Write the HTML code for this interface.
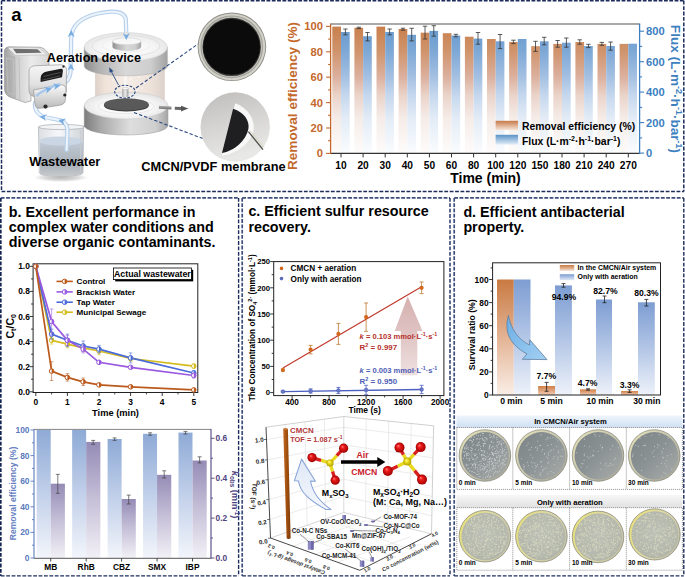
<!DOCTYPE html>
<html><head><meta charset="utf-8"><style>
html,body{margin:0;padding:0;background:#fff;width:685px;height:577px;overflow:hidden}
svg{display:block;font-family:'Liberation Sans',sans-serif}
</style></head><body>
<svg width="685" height="577" viewBox="0 0 685 577" font-family="'Liberation Sans', sans-serif" font-weight="bold">
<defs><linearGradient id="pbody" x1="0" y1="0" x2="1" y2="0"><stop offset="0" stop-color="#a0a0a0"/><stop offset="0.25" stop-color="#cdcdcd"/><stop offset="0.6" stop-color="#ebebeb"/><stop offset="1" stop-color="#d6d6d6"/></linearGradient><linearGradient id="phead" x1="0" y1="0" x2="0" y2="1"><stop offset="0" stop-color="#f6f6f6"/><stop offset="0.6" stop-color="#e2e2e2"/><stop offset="1" stop-color="#bdbdbd"/></linearGradient><linearGradient id="pblk" x1="0" y1="0" x2="0" y2="1"><stop offset="0" stop-color="#fbfbfb"/><stop offset="1" stop-color="#b9b9b9"/></linearGradient><radialGradient id="bshadow" cx="0.5" cy="0.5" r="0.5"><stop offset="0" stop-color="#b8b8b8"/><stop offset="0.6" stop-color="#d8d8d8"/><stop offset="1" stop-color="#ffffff"/></radialGradient><linearGradient id="bkg" x1="0" y1="0" x2="1" y2="0"><stop offset="0" stop-color="#dcdfe2"/><stop offset="0.45" stop-color="#f6f7f8"/><stop offset="1" stop-color="#d0d4d8"/></linearGradient><linearGradient id="bkw" gradientUnits="userSpaceOnUse" x1="0" y1="137" x2="0" y2="176"><stop offset="0" stop-color="#c6d2e0"/><stop offset="0.3" stop-color="#b9c2cc"/><stop offset="0.7" stop-color="#a9b0b8"/><stop offset="1" stop-color="#c6cacd"/></linearGradient><linearGradient id="lidside" x1="0" y1="0" x2="1" y2="0"><stop offset="0" stop-color="#8c8c8c"/><stop offset="0.18" stop-color="#b2b2b2"/><stop offset="0.5" stop-color="#d8d8d8"/><stop offset="0.8" stop-color="#cecece"/><stop offset="1" stop-color="#a2a2a2"/></linearGradient><linearGradient id="baseside" x1="0" y1="0" x2="1" y2="0"><stop offset="0" stop-color="#7c7c7c"/><stop offset="0.2" stop-color="#a9a9a9"/><stop offset="0.55" stop-color="#dedede"/><stop offset="0.85" stop-color="#cfcfcf"/><stop offset="1" stop-color="#a6a6a6"/></linearGradient><radialGradient id="lidtop" cx="0.5" cy="0.55" r="0.6"><stop offset="0" stop-color="#ffffff"/><stop offset="0.6" stop-color="#f4f4f4"/><stop offset="1" stop-color="#dedede"/></radialGradient><linearGradient id="cyl" x1="0" y1="0" x2="1" y2="0"><stop offset="0" stop-color="#dcd0c8"/><stop offset="0.15" stop-color="#efe3da"/><stop offset="0.45" stop-color="#f6eee8"/><stop offset="0.8" stop-color="#ede2da"/><stop offset="1" stop-color="#dcd2cb"/></linearGradient><linearGradient id="nz" x1="0" y1="0" x2="1" y2="0"><stop offset="0" stop-color="#a8a8a8"/><stop offset="0.5" stop-color="#ececec"/><stop offset="1" stop-color="#9c9c9c"/></linearGradient><linearGradient id="garr" x1="0" y1="0" x2="0" y2="1"><stop offset="0" stop-color="#b0b0b0"/><stop offset="1" stop-color="#6a6a6a"/></linearGradient><linearGradient id="ph2" x1="0" y1="0" x2="0.3" y2="1"><stop offset="0" stop-color="#bebcba"/><stop offset="0.5" stop-color="#d4d3d1"/><stop offset="1" stop-color="#e8e8e6"/></linearGradient><linearGradient id="ga_o" gradientUnits="userSpaceOnUse" x1="0" y1="26" x2="0" y2="153"><stop offset="0" stop-color="#c97f4c"/><stop offset="0.2" stop-color="#d0946c"/><stop offset="0.4" stop-color="#dbb09e"/><stop offset="0.55" stop-color="#ead4ca"/><stop offset="0.72" stop-color="#f5ebe7"/><stop offset="1" stop-color="#fdfcfb"/></linearGradient><linearGradient id="ga_b" gradientUnits="userSpaceOnUse" x1="0" y1="26" x2="0" y2="153"><stop offset="0" stop-color="#6499cc"/><stop offset="0.2" stop-color="#7ea8d6"/><stop offset="0.4" stop-color="#a4c0e2"/><stop offset="0.55" stop-color="#c6d8ee"/><stop offset="0.72" stop-color="#e2ebf6"/><stop offset="1" stop-color="#fafcfe"/></linearGradient><linearGradient id="gl_o" x1="0" y1="0" x2="0" y2="1"><stop offset="0" stop-color="#c87a48"/><stop offset="1" stop-color="#f6e6dc"/></linearGradient><linearGradient id="gl_b" x1="0" y1="0" x2="0" y2="1"><stop offset="0" stop-color="#5a92c8"/><stop offset="1" stop-color="#e4eef8"/></linearGradient><linearGradient id="gb_b" x1="0" y1="0" x2="0" y2="1"><stop offset="0" stop-color="#8eaad6"/><stop offset="0.5" stop-color="#c2d0ea"/><stop offset="1" stop-color="#f2f5fb"/></linearGradient><linearGradient id="gb_p" x1="0" y1="0" x2="0" y2="1"><stop offset="0" stop-color="#958cb6"/><stop offset="0.5" stop-color="#c6c0d8"/><stop offset="1" stop-color="#f2f0f6"/></linearGradient><linearGradient id="gc_arr" x1="0" y1="0" x2="0" y2="1"><stop offset="0" stop-color="#d6b0b0"/><stop offset="0.45" stop-color="#dfc2c2"/><stop offset="1" stop-color="#eee0e0"/></linearGradient><filter id="blr" x="-20%" y="-20%" width="140%" height="140%"><feGaussianBlur stdDeviation="0.7"/></filter><linearGradient id="g3bar" x1="0" y1="0" x2="1" y2="0"><stop offset="0" stop-color="#c46a26"/><stop offset="0.45" stop-color="#a4520f"/><stop offset="1" stop-color="#7e3a08"/></linearGradient><linearGradient id="g3ca" x1="0" y1="0" x2="0" y2="1"><stop offset="0" stop-color="#dfe8f7"/><stop offset="1" stop-color="#f4f7fc"/></linearGradient><radialGradient id="gO" cx="0.5" cy="0.5" r="0.5" fx="0.35" fy="0.3"><stop offset="0" stop-color="#ff8080"/><stop offset="0.35" stop-color="#ee1c1c"/><stop offset="1" stop-color="#a00000"/></radialGradient><radialGradient id="gS" cx="0.5" cy="0.5" r="0.5" fx="0.35" fy="0.3"><stop offset="0" stop-color="#ffff90"/><stop offset="0.4" stop-color="#f0e020"/><stop offset="1" stop-color="#b0a000"/></radialGradient><linearGradient id="gd_o" x1="0" y1="0" x2="0" y2="1"><stop offset="0" stop-color="#c97a42"/><stop offset="0.5" stop-color="#e3b394"/><stop offset="1" stop-color="#faeee6"/></linearGradient><linearGradient id="gd_b" x1="0" y1="0" x2="0" y2="1"><stop offset="0" stop-color="#7d9dd2"/><stop offset="0.5" stop-color="#b3c6e6"/><stop offset="1" stop-color="#eef2fa"/></linearGradient><linearGradient id="gd_os" x1="0" y1="0" x2="0" y2="1"><stop offset="0" stop-color="#cf8048"/><stop offset="0.5" stop-color="#e0a47c"/><stop offset="1" stop-color="#f2cdb5"/></linearGradient><linearGradient id="gdl_o" x1="0" y1="0" x2="0" y2="1"><stop offset="0" stop-color="#c97a42"/><stop offset="1" stop-color="#f3ddd0"/></linearGradient><linearGradient id="gdl_b" x1="0" y1="0" x2="0" y2="1"><stop offset="0" stop-color="#7d9dd2"/><stop offset="1" stop-color="#e3eaf7"/></linearGradient><linearGradient id="gd_arr" x1="0" y1="0" x2="1" y2="1"><stop offset="0" stop-color="#6aaee6"/><stop offset="1" stop-color="#a4d0f2"/></linearGradient><linearGradient id="gh1" x1="0" y1="0" x2="0" y2="1"><stop offset="0" stop-color="#eef4fb"/><stop offset="1" stop-color="#cfe0f3"/></linearGradient><linearGradient id="gh2" x1="0" y1="0" x2="0" y2="1"><stop offset="0" stop-color="#f7f7f7"/><stop offset="1" stop-color="#e1e1e1"/></linearGradient><linearGradient id="rim1" x1="0" y1="0" x2="1" y2="1"><stop offset="0" stop-color="#e8e4b8"/><stop offset="0.5" stop-color="#c6c5ae"/><stop offset="1" stop-color="#a2a294"/></linearGradient><linearGradient id="rim2" x1="0" y1="0.3" x2="1" y2="0.7"><stop offset="0" stop-color="#e8e07a"/><stop offset="0.5" stop-color="#dcd8a8"/><stop offset="1" stop-color="#c4c2a6"/></linearGradient><linearGradient id="in1" x1="0.1" y1="0.1" x2="0.9" y2="0.9"><stop offset="0" stop-color="#80878a"/><stop offset="0.45" stop-color="#8a9193"/><stop offset="1" stop-color="#a4a8a6"/></linearGradient><radialGradient id="in2" cx="0.5" cy="0.45" r="0.7"><stop offset="0" stop-color="#bcc0b6"/><stop offset="0.7" stop-color="#b4b8ac"/><stop offset="1" stop-color="#aaae9e"/></radialGradient></defs>
<line x1="1.5" y1="0.8" x2="683.8" y2="0.8" stroke="#1d2c5c" stroke-width="1.5" stroke-dasharray="3.8 1.5"/>
<line x1="1.5" y1="0.8" x2="1.5" y2="191.4" stroke="#1d2c5c" stroke-width="1.5" stroke-dasharray="3.8 1.5"/>
<line x1="683.8" y1="0.8" x2="683.8" y2="191.4" stroke="#1d2c5c" stroke-width="1.5" stroke-dasharray="3.8 1.6"/>
<line x1="1.5" y1="191.4" x2="683.8" y2="191.4" stroke="#1d2c5c" stroke-width="1.5" stroke-dasharray="3.8 1.6"/>
<line x1="0.8" y1="197.9" x2="238.6" y2="197.9" stroke="#3d4e7c" stroke-width="1.7" stroke-dasharray="3.8 1.5"/>
<line x1="0.8" y1="197.9" x2="0.8" y2="575.9" stroke="#132352" stroke-width="1.7" stroke-dasharray="3.8 1.5"/>
<line x1="238.6" y1="197.9" x2="238.6" y2="575.9" stroke="#1d2c5c" stroke-width="1.4" stroke-dasharray="3.8 1.6"/>
<line x1="0.8" y1="575.9" x2="238.6" y2="575.9" stroke="#1d2c5c" stroke-width="1.4" stroke-dasharray="3.8 1.6"/>
<line x1="242.2" y1="197.9" x2="450" y2="197.9" stroke="#3d4e7c" stroke-width="1.7" stroke-dasharray="3.8 1.5"/>
<line x1="242.2" y1="197.9" x2="242.2" y2="575.9" stroke="#3d4e7c" stroke-width="1.7" stroke-dasharray="3.8 1.5"/>
<line x1="450" y1="197.9" x2="450" y2="575.9" stroke="#1d2c5c" stroke-width="1.4" stroke-dasharray="3.8 1.6"/>
<line x1="242.2" y1="575.9" x2="450" y2="575.9" stroke="#1d2c5c" stroke-width="1.4" stroke-dasharray="3.8 1.6"/>
<line x1="454.2" y1="197.9" x2="683.8" y2="197.9" stroke="#3d4e7c" stroke-width="1.7" stroke-dasharray="3.8 1.5"/>
<line x1="454.2" y1="197.9" x2="454.2" y2="575.9" stroke="#3d4e7c" stroke-width="1.7" stroke-dasharray="3.8 1.5"/>
<line x1="683.8" y1="197.9" x2="683.8" y2="575.9" stroke="#1d2c5c" stroke-width="1.4" stroke-dasharray="3.8 1.6"/>
<line x1="454.2" y1="575.9" x2="683.8" y2="575.9" stroke="#1d2c5c" stroke-width="1.4" stroke-dasharray="3.8 1.6"/>
<text x="11.2" y="20.6" font-size="18.5" fill="#000" text-anchor="start" >a</text>
<path d="M58 84 C65 84 69.5 80 70.5 72 L71.2 38 C71.8 25 82 17 98 13.5 C112 10.5 124 11 125.8 19 L126.3 36" fill="none" stroke="#b6d0ec" stroke-width="4.3" stroke-linecap="round" stroke-linejoin="round"/>
<path d="M58 84 C65 84 69.5 80 70.5 72 L71.2 38 C71.8 25 82 17 98 13.5 C112 10.5 124 11 125.8 19 L126.3 36" fill="none" stroke="#ecf3fb" stroke-width="2.1" stroke-linecap="round" stroke-linejoin="round"/>
<path d="M62 121 C56 118.5 46 118.5 41 115.5 C36.5 112.5 34.5 108 35 103" fill="none" stroke="#b6d0ec" stroke-width="4.3" stroke-linecap="round" stroke-linejoin="round"/>
<path d="M62 121 C56 118.5 46 118.5 41 115.5 C36.5 112.5 34.5 108 35 103" fill="none" stroke="#ecf3fb" stroke-width="2.1" stroke-linecap="round" stroke-linejoin="round"/>
<path d="M4.4 52 C4.4 48.5 6 47 9 46.8 L39 47.2 C42 47.3 44 48.5 46 50.5 L49 54 L49 68 L31 68 L31 101 L25 102.5 L11 97.5 C7 96 5 93.5 4.6 90 Z" fill="url(#pbody)" stroke="#8c8c8c" stroke-width="0.6"/>
<path d="M7.5 47.6 L39 47.9 L47.5 54.8 L15.5 55.6 Z" fill="#ededed" stroke="#a8a8a8" stroke-width="0.4"/>
<path d="M13 48.8 L37.5 49.3 L41.5 52.8 L16.2 53.3 Z" fill="#707070"/>
<path d="M4.8 54 L15.3 56.4 L16 99.5 L8.5 96.5 Z" fill="#a9a9a9" opacity="0.55"/>
<path d="M6.5 58 L13.5 59.5 L14 95 L8 92.5 Z" fill="none" stroke="#c8c8c8" stroke-width="0.6"/>
<path d="M19 57 L19.8 100.5" stroke="#bdbdbd" stroke-width="0.8"/>
<path d="M29 71 C29 67.5 32 65.8 36 65.7 L60 64.8 C64 64.7 66.5 66.5 66.5 70.5 L66.3 90 C66.3 94 64 96 60 96 L35 96.5 C31.5 96.5 29 94 29 90.5 Z" fill="url(#phead)" stroke="#8a8a8a" stroke-width="0.6"/>
<path d="M40.6 82 L40.6 78 Q41 72.5 47 71.5 L61 68.8 Q63.2 68.6 62.9 71 L62 77.2 Z" fill="#1b1b1b"/>
<path d="M43.5 76.5 L60.5 72.5 M42.5 80 L60 76" stroke="#8a8a8a" stroke-width="0.45"/>
<path d="M33.5 90 L59.5 85 C63.5 84.4 66 86.2 66 89.5 L65.5 99.5 C65.3 102.8 63 104.8 59.5 105.3 L40.5 108.3 C37.3 108.8 35 107 35 104 Z" fill="url(#pblk)" stroke="#8a8a8a" stroke-width="0.6"/>
<circle cx="45.5" cy="106.6" r="2.1" fill="#2a2a2a"/><circle cx="64.8" cy="95" r="1.6" fill="#222"/><circle cx="63.5" cy="66.5" r="1.2" fill="#333"/>
<path d="M36 96 C42 91 50 87 60 84" stroke="#a9c8ea" stroke-width="2.8" fill="none"/>
<ellipse cx="61" cy="177.5" rx="27" ry="4.5" fill="url(#bshadow)"/>
<path d="M38.5 127 L83.5 127 L83 172 C83 175 77 176 61 176 C45 176 39.2 175 39.2 172 Z" fill="url(#bkg)" stroke="#a9aeb3" stroke-width="0.7"/>
<path d="M39 141 C48 144.5 74 144.5 83.2 141 L83 172 C83 175 77 176 61 176 C45 176 39.2 175 39.2 172 Z" fill="url(#bkw)"/>
<ellipse cx="61" cy="141" rx="22.1" ry="4.6" fill="#cbd6e4"/>
<path d="M39.5 140 L39.5 172" stroke="#d8dcdf" stroke-width="1.2" opacity="0.8"/>
<path d="M80.8 130 L80.6 171" stroke="#c8ccd0" stroke-width="0.9"/>
<ellipse cx="61.5" cy="127" rx="23" ry="2.6" fill="#f3f4f5" stroke="#a5aab0" stroke-width="0.7"/>
<path d="M83.5 126.5 L86.5 125" stroke="#9aa0a6" stroke-width="1.3"/>
<path d="M66.6 150 L67.4 131 C67.6 126 66 123 62 121" fill="none" stroke="#b6d0ec" stroke-width="4.3" stroke-linecap="round" stroke-linejoin="round"/>
<path d="M66.6 150 L67.4 131 C67.6 126 66 123 62 121" fill="none" stroke="#ecf3fb" stroke-width="2.1" stroke-linecap="round" stroke-linejoin="round"/>
<path d="M3.5 0 L-3.5 -3.5 L-1.4 0 L-3.5 3.5 Z" transform="translate(71.2,33.5) rotate(-90)" fill="#79ade2"/>
<path d="M3.5 0 L-3.5 -3.5 L-1.4 0 L-3.5 3.5 Z" transform="translate(70.9,67) rotate(-90)" fill="#79ade2"/>
<path d="M3.5 0 L-3.5 -3.5 L-1.4 0 L-3.5 3.5 Z" transform="translate(126.2,37) rotate(90)" fill="#79ade2"/>
<path d="M3.5 0 L-3.5 -3.5 L-1.4 0 L-3.5 3.5 Z" transform="translate(61.8,121) rotate(-165)" fill="#79ade2"/>
<path d="M3.5 0 L-3.5 -3.5 L-1.4 0 L-3.5 3.5 Z" transform="translate(43,117) rotate(-170)" fill="#79ade2"/>
<path d="M3.5 0 L-3.5 -3.5 L-1.4 0 L-3.5 3.5 Z" transform="translate(48.5,89.5) rotate(-15)" fill="#79ade2"/>
<path d="M3.5 0 L-3.5 -3.5 L-1.4 0 L-3.5 3.5 Z" transform="translate(57,86) rotate(-10)" fill="#79ade2"/>
<rect x="95.1" y="66" width="69.7" height="40" fill="url(#cyl)"/>
<rect x="124.5" y="74" width="1.6" height="15" fill="#fbfbfb"/>
<path d="M84.2 105.5 L84.2 125.5 A41.9 9.5 0 0 0 168 125.5 L168 105.5 Z" fill="url(#baseside)" stroke="#9a9a9a" stroke-width="0.5"/>
<ellipse cx="126.1" cy="105.5" rx="41.9" ry="13.5" fill="url(#lidtop)" stroke="#c8c8c8" stroke-width="0.5"/>
<ellipse cx="126.2" cy="106.5" rx="27.7" ry="7.1" fill="#fafafa" stroke="#d0d0d0" stroke-width="0.4"/>
<ellipse cx="126.4" cy="105.4" rx="22.4" ry="6.2" fill="#3c3c3c"/>
<ellipse cx="126.4" cy="104.4" rx="22.4" ry="6.2" fill="#595959"/>
<rect x="122.2" y="88.5" width="6.2" height="8.5" fill="url(#nz)"/>
<ellipse cx="125.3" cy="88.5" rx="3.1" ry="1.1" fill="#f8f8f8" stroke="#bbb" stroke-width="0.4"/>
<path d="M84.2 47 L84.2 66 A41.6 9.8 0 0 0 167.4 66 L167.4 47 Z" fill="url(#lidside)" stroke="#aaaaaa" stroke-width="0.5"/>
<ellipse cx="125.8" cy="47" rx="41.6" ry="14.4" fill="url(#lidtop)" stroke="#d2d2d2" stroke-width="0.5"/>
<ellipse cx="126" cy="46" rx="34" ry="10.5" fill="none" stroke="#e2e2e2" stroke-width="1"/>
<ellipse cx="126" cy="45" rx="24" ry="7" fill="none" stroke="#ececec" stroke-width="0.8"/>
<path d="M112.6 41.3 L112.6 47 A14.2 3.6 0 0 0 141 47 L141 41.3 Z" fill="url(#lidside)" stroke="#bbb" stroke-width="0.4"/>
<ellipse cx="126.8" cy="41.3" rx="14.2" ry="3.5" fill="#f7f7f7" stroke="#cacaca" stroke-width="0.5"/>
<path d="M3.5 0 L-3.5 -3.5 L-1.4 0 L-3.5 3.5 Z" transform="translate(126.3,36.5) rotate(90)" fill="#79ade2"/>
<circle cx="113" cy="80" r="0.7" fill="#fff"/>
<circle cx="139" cy="77" r="0.7" fill="#fff"/>
<circle cx="144" cy="83" r="0.7" fill="#fff"/>
<circle cx="137" cy="90" r="0.7" fill="#fff"/>
<circle cx="142" cy="88" r="0.7" fill="#fff"/>
<circle cx="131" cy="79" r="0.7" fill="#fff"/>
<ellipse cx="124.9" cy="91.6" rx="10.2" ry="6.4" fill="none" stroke="#2b4a82" stroke-width="1.1" stroke-dasharray="2.6 1.4"/>
<path d="M118.5 85 L111 71" stroke="#2b4a82" stroke-width="0.9"/>
<path d="M109.2 67.2 L113.6 71.2 L109.6 72.6 Z" fill="#2b4a82"/>
<path d="M136 88 L198 44" stroke="#2b4a82" stroke-width="1.1" stroke-dasharray="3.4 2"/>
<path d="M134 112.5 L204 139" stroke="#2b4a82" stroke-width="1.1" stroke-dasharray="3.4 2"/>
<path d="M158.9 105.8 L171.5 106.6 L171.5 109.6 L158.9 108.8 Z" fill="url(#garr)"/>
<path d="M174.8 106.8 L181 107.1 L181 110 L174.8 109.7 Z" fill="#666"/>
<path d="M181 105.8 L188.3 108.6 L181 111.4 Z" fill="#555"/>
<circle cx="231.9" cy="46.8" r="34.3" fill="#8e8e86"/>
<circle cx="231.9" cy="46.8" r="33.4" fill="#d2d2ca"/>
<circle cx="231.8" cy="46.8" r="31.4" fill="#a4a49c"/>
<circle cx="231.8" cy="46.8" r="30.2" fill="#c4c4bc"/>
<circle cx="231.7" cy="46.9" r="29.2" fill="#3a3a38"/>
<ellipse cx="231.6" cy="46.9" rx="28.4" ry="27.9" fill="#0b0b0b"/>
<circle cx="235.2" cy="127" r="34.7" fill="url(#ph2)"/>
<path d="M235.2 103.2 C248 108 256 120 253.2 131.6 C250 144 236 154 222 155.9 Z" fill="#f8f8f8"/>
<path d="M233.1 108.7 C244 112 250 121 248.4 128.8 C246 141 234 151 222 153.1 Z" fill="#1f1f21"/>
<path d="M248.4 131.6 L263 149.6" stroke="#4a4a4a" stroke-width="1.3"/>
<path d="M249.8 130.4 L264.2 147.6" stroke="#d8d0b0" stroke-width="0.8"/>
<text x="46.8" y="61.6" font-size="12.65" fill="#000" text-anchor="start" >Aeration device</text>
<text x="29.2" y="165.6" font-size="12.9" fill="#000" text-anchor="start" >Wastewater</text>
<text x="141.3" y="171.3" font-size="12.8" fill="#000" text-anchor="start" >CMCN/PVDF membrane</text>
<rect x="332.3" y="26.6" width="8.7" height="126.8" fill="url(#ga_o)"/>
<rect x="341.0" y="32.0" width="8.7" height="121.4" fill="url(#ga_b)"/>
<path d="M345.4 29.0V34.8M343.2 29.0h4.4M343.2 34.8h4.4" stroke="#333" stroke-width="0.8" fill="none"/>
<line x1="341.0" y1="153.4" x2="341.0" y2="157.4" stroke="#333" stroke-width="1"/>
<text x="341.0" y="168.6" font-size="10.2" fill="#000" text-anchor="middle" >10</text>
<rect x="354.4" y="27.8" width="8.7" height="125.6" fill="url(#ga_o)"/>
<rect x="363.1" y="36.2" width="8.7" height="117.2" fill="url(#ga_b)"/>
<path d="M358.8 27.2V28.6M356.6 27.2h4.4M356.6 28.6h4.4" stroke="#333" stroke-width="0.8" fill="none"/>
<path d="M367.5 32.5V40.9M365.3 32.5h4.4M365.3 40.9h4.4" stroke="#333" stroke-width="0.8" fill="none"/>
<line x1="363.1" y1="153.4" x2="363.1" y2="157.4" stroke="#333" stroke-width="1"/>
<text x="363.1" y="168.6" font-size="10.2" fill="#000" text-anchor="middle" >20</text>
<rect x="376.5" y="26.6" width="8.7" height="126.8" fill="url(#ga_o)"/>
<rect x="385.2" y="32.0" width="8.7" height="121.4" fill="url(#ga_b)"/>
<path d="M389.6 29.0V34.8M387.4 29.0h4.4M387.4 34.8h4.4" stroke="#333" stroke-width="0.8" fill="none"/>
<line x1="385.2" y1="153.4" x2="385.2" y2="157.4" stroke="#333" stroke-width="1"/>
<text x="385.2" y="168.6" font-size="10.2" fill="#000" text-anchor="middle" >30</text>
<rect x="398.6" y="29.0" width="8.7" height="124.4" fill="url(#ga_o)"/>
<rect x="407.3" y="34.8" width="8.7" height="118.6" fill="url(#ga_b)"/>
<path d="M402.9 28.2V30.2M400.8 28.2h4.4M400.8 30.2h4.4" stroke="#333" stroke-width="0.8" fill="none"/>
<path d="M411.7 28.3V40.9M409.5 28.3h4.4M409.5 40.9h4.4" stroke="#333" stroke-width="0.8" fill="none"/>
<line x1="407.3" y1="153.4" x2="407.3" y2="157.4" stroke="#333" stroke-width="1"/>
<text x="407.3" y="168.6" font-size="10.2" fill="#000" text-anchor="middle" >40</text>
<rect x="420.7" y="32.7" width="8.7" height="120.7" fill="url(#ga_o)"/>
<rect x="429.4" y="30.9" width="8.7" height="122.5" fill="url(#ga_b)"/>
<path d="M425.0 26.2V39.0M422.8 26.2h4.4M422.8 39.0h4.4" stroke="#333" stroke-width="0.8" fill="none"/>
<path d="M433.8 25.7V36.2M431.6 25.7h4.4M431.6 36.2h4.4" stroke="#333" stroke-width="0.8" fill="none"/>
<line x1="429.4" y1="153.4" x2="429.4" y2="157.4" stroke="#333" stroke-width="1"/>
<text x="429.4" y="168.6" font-size="10.2" fill="#000" text-anchor="middle" >50</text>
<rect x="442.8" y="33.2" width="8.7" height="120.2" fill="url(#ga_o)"/>
<rect x="451.5" y="35.5" width="8.7" height="117.9" fill="url(#ga_b)"/>
<path d="M455.9 34.3V36.8M453.7 34.3h4.4M453.7 36.8h4.4" stroke="#333" stroke-width="0.8" fill="none"/>
<line x1="451.5" y1="153.4" x2="451.5" y2="157.4" stroke="#333" stroke-width="1"/>
<text x="451.5" y="168.6" font-size="10.2" fill="#000" text-anchor="middle" >60</text>
<rect x="464.9" y="36.7" width="8.7" height="116.7" fill="url(#ga_o)"/>
<rect x="473.6" y="38.6" width="8.7" height="114.8" fill="url(#ga_b)"/>
<path d="M478.0 32.5V44.2M475.8 32.5h4.4M475.8 44.2h4.4" stroke="#333" stroke-width="0.8" fill="none"/>
<line x1="473.6" y1="153.4" x2="473.6" y2="157.4" stroke="#333" stroke-width="1"/>
<text x="473.6" y="168.6" font-size="10.2" fill="#000" text-anchor="middle" >80</text>
<rect x="487.0" y="39.0" width="8.7" height="114.4" fill="url(#ga_o)"/>
<rect x="495.7" y="41.3" width="8.7" height="112.1" fill="url(#ga_b)"/>
<path d="M500.1 34.5V48.6M497.9 34.5h4.4M497.9 48.6h4.4" stroke="#333" stroke-width="0.8" fill="none"/>
<line x1="495.7" y1="153.4" x2="495.7" y2="157.4" stroke="#333" stroke-width="1"/>
<text x="495.7" y="168.6" font-size="10.2" fill="#000" text-anchor="middle" >100</text>
<rect x="509.1" y="42.0" width="8.7" height="111.4" fill="url(#ga_o)"/>
<rect x="517.8" y="39.0" width="8.7" height="114.4" fill="url(#ga_b)"/>
<path d="M513.4 40.2V43.6M511.2 40.2h4.4M511.2 43.6h4.4" stroke="#333" stroke-width="0.8" fill="none"/>
<line x1="517.8" y1="153.4" x2="517.8" y2="157.4" stroke="#333" stroke-width="1"/>
<text x="517.8" y="168.6" font-size="10.2" fill="#000" text-anchor="middle" >120</text>
<rect x="531.2" y="46.2" width="8.7" height="107.2" fill="url(#ga_o)"/>
<rect x="539.9" y="41.3" width="8.7" height="112.1" fill="url(#ga_b)"/>
<path d="M535.5 41.3V51.4M533.3 41.3h4.4M533.3 51.4h4.4" stroke="#333" stroke-width="0.8" fill="none"/>
<path d="M544.2 37.3V44.8M542.0 37.3h4.4M542.0 44.8h4.4" stroke="#333" stroke-width="0.8" fill="none"/>
<line x1="539.9" y1="153.4" x2="539.9" y2="157.4" stroke="#333" stroke-width="1"/>
<text x="539.9" y="168.6" font-size="10.2" fill="#000" text-anchor="middle" >150</text>
<rect x="553.3" y="43.9" width="8.7" height="109.5" fill="url(#ga_o)"/>
<rect x="562.0" y="42.7" width="8.7" height="110.7" fill="url(#ga_b)"/>
<path d="M557.6 40.5V47.2M555.4 40.5h4.4M555.4 47.2h4.4" stroke="#333" stroke-width="0.8" fill="none"/>
<path d="M566.4 38.0V47.2M564.1 38.0h4.4M564.1 47.2h4.4" stroke="#333" stroke-width="0.8" fill="none"/>
<line x1="562.0" y1="153.4" x2="562.0" y2="157.4" stroke="#333" stroke-width="1"/>
<text x="562.0" y="168.6" font-size="10.2" fill="#000" text-anchor="middle" >180</text>
<rect x="575.4" y="42.0" width="8.7" height="111.4" fill="url(#ga_o)"/>
<rect x="584.1" y="46.0" width="8.7" height="107.4" fill="url(#ga_b)"/>
<path d="M579.8 39.8V44.2M577.5 39.8h4.4M577.5 44.2h4.4" stroke="#333" stroke-width="0.8" fill="none"/>
<path d="M588.5 44.3V47.6M586.2 44.3h4.4M586.2 47.6h4.4" stroke="#333" stroke-width="0.8" fill="none"/>
<line x1="584.1" y1="153.4" x2="584.1" y2="157.4" stroke="#333" stroke-width="1"/>
<text x="584.1" y="168.6" font-size="10.2" fill="#000" text-anchor="middle" >210</text>
<rect x="597.5" y="43.9" width="8.7" height="109.5" fill="url(#ga_o)"/>
<rect x="606.2" y="46.0" width="8.7" height="107.4" fill="url(#ga_b)"/>
<path d="M601.9 42.4V45.3M599.6 42.4h4.4M599.6 45.3h4.4" stroke="#333" stroke-width="0.8" fill="none"/>
<path d="M610.6 42.0V50.2M608.4 42.0h4.4M608.4 50.2h4.4" stroke="#333" stroke-width="0.8" fill="none"/>
<line x1="606.2" y1="153.4" x2="606.2" y2="157.4" stroke="#333" stroke-width="1"/>
<text x="606.2" y="168.6" font-size="10.2" fill="#000" text-anchor="middle" >240</text>
<rect x="619.6" y="43.9" width="8.7" height="109.5" fill="url(#ga_o)"/>
<rect x="628.3" y="43.7" width="8.7" height="109.7" fill="url(#ga_b)"/>
<line x1="628.3" y1="153.4" x2="628.3" y2="157.4" stroke="#333" stroke-width="1"/>
<text x="628.3" y="168.6" font-size="10.2" fill="#000" text-anchor="middle" >270</text>
<line x1="330.6" y1="24" x2="639.6" y2="24" stroke="#555" stroke-width="1.1"/>
<line x1="330" y1="153.4" x2="640" y2="153.4" stroke="#333" stroke-width="1.1"/>
<line x1="330.6" y1="23.5" x2="330.6" y2="153.9" stroke="#c4692c" stroke-width="1.3"/>
<line x1="639.6" y1="23.5" x2="639.6" y2="153.9" stroke="#3d7fbf" stroke-width="1.3"/>
<line x1="326.1" y1="153.4" x2="330.6" y2="153.4" stroke="#c4692c" stroke-width="1.1"/>
<text x="323.0" y="157.3" font-size="11.2" fill="#c4692c" text-anchor="end" >0</text>
<line x1="328.1" y1="140.7" x2="330.6" y2="140.7" stroke="#c4692c" stroke-width="1.1"/>
<line x1="326.1" y1="128.0" x2="330.6" y2="128.0" stroke="#c4692c" stroke-width="1.1"/>
<text x="323.0" y="131.9" font-size="11.2" fill="#c4692c" text-anchor="end" >20</text>
<line x1="328.1" y1="115.3" x2="330.6" y2="115.3" stroke="#c4692c" stroke-width="1.1"/>
<line x1="326.1" y1="102.6" x2="330.6" y2="102.6" stroke="#c4692c" stroke-width="1.1"/>
<text x="323.0" y="106.5" font-size="11.2" fill="#c4692c" text-anchor="end" >40</text>
<line x1="328.1" y1="89.9" x2="330.6" y2="89.9" stroke="#c4692c" stroke-width="1.1"/>
<line x1="326.1" y1="77.2" x2="330.6" y2="77.2" stroke="#c4692c" stroke-width="1.1"/>
<text x="323.0" y="81.1" font-size="11.2" fill="#c4692c" text-anchor="end" >60</text>
<line x1="328.1" y1="64.5" x2="330.6" y2="64.5" stroke="#c4692c" stroke-width="1.1"/>
<line x1="326.1" y1="51.8" x2="330.6" y2="51.8" stroke="#c4692c" stroke-width="1.1"/>
<text x="323.0" y="55.7" font-size="11.2" fill="#c4692c" text-anchor="end" >80</text>
<line x1="328.1" y1="39.1" x2="330.6" y2="39.1" stroke="#c4692c" stroke-width="1.1"/>
<line x1="326.1" y1="26.4" x2="330.6" y2="26.4" stroke="#c4692c" stroke-width="1.1"/>
<text x="323.0" y="30.3" font-size="11.2" fill="#c4692c" text-anchor="end" >100</text>
<line x1="639.6" y1="153.1" x2="644.1" y2="153.1" stroke="#3d7fbf" stroke-width="1.1"/>
<text x="646.0" y="157.0" font-size="11.2" fill="#3d7fbf" text-anchor="start" >0</text>
<line x1="639.6" y1="137.9" x2="642.1" y2="137.9" stroke="#3d7fbf" stroke-width="1.1"/>
<line x1="639.6" y1="122.6" x2="644.1" y2="122.6" stroke="#3d7fbf" stroke-width="1.1"/>
<text x="646.0" y="126.5" font-size="11.2" fill="#3d7fbf" text-anchor="start" >200</text>
<line x1="639.6" y1="107.4" x2="642.1" y2="107.4" stroke="#3d7fbf" stroke-width="1.1"/>
<line x1="639.6" y1="92.1" x2="644.1" y2="92.1" stroke="#3d7fbf" stroke-width="1.1"/>
<text x="646.0" y="96.0" font-size="11.2" fill="#3d7fbf" text-anchor="start" >400</text>
<line x1="639.6" y1="76.9" x2="642.1" y2="76.9" stroke="#3d7fbf" stroke-width="1.1"/>
<line x1="639.6" y1="61.7" x2="644.1" y2="61.7" stroke="#3d7fbf" stroke-width="1.1"/>
<text x="646.0" y="65.6" font-size="11.2" fill="#3d7fbf" text-anchor="start" >600</text>
<line x1="639.6" y1="46.4" x2="642.1" y2="46.4" stroke="#3d7fbf" stroke-width="1.1"/>
<line x1="639.6" y1="31.2" x2="644.1" y2="31.2" stroke="#3d7fbf" stroke-width="1.1"/>
<text x="646.0" y="35.1" font-size="11.2" fill="#3d7fbf" text-anchor="start" >800</text>
<text transform="translate(297.3,96) rotate(-90)" font-size="13.6" fill="#c4692c" text-anchor="middle">Removal efficiency (%)</text>
<text transform="translate(670.5,89) rotate(90)" font-size="13.6" fill="#3d7fbf" text-anchor="middle">Flux (L·m<tspan dy="-5" font-size="9">-2</tspan><tspan dy="5">·h</tspan><tspan dy="-5" font-size="9">-1</tspan><tspan dy="5">·bar</tspan><tspan dy="-5" font-size="9">-1</tspan><tspan dy="5">)</tspan></text>
<text x="485.5" y="182.5" font-size="14" fill="#000" text-anchor="middle" >Time (min)</text>
<rect x="495.6" y="120.8" width="22.4" height="9.4" fill="url(#gl_o)"/>
<rect x="495.6" y="134.8" width="22.4" height="9.8" fill="url(#gl_b)"/>
<text x="522.0" y="130.0" font-size="10.4" fill="#000" text-anchor="start" >Removal efficiency (%)</text>
<text x="522.0" y="144.6" font-size="10.4" fill="#000" text-anchor="start" >Flux (L·m<tspan dy="-3.5" font-size="7">-2</tspan><tspan dy="3.5">·h</tspan><tspan dy="-3.5" font-size="7">-1</tspan><tspan dy="3.5">·bar</tspan><tspan dy="-3.5" font-size="7">-1</tspan><tspan dy="3.5">)</tspan></text>
<text x="8.8" y="216.7" font-size="14.3" fill="#000" text-anchor="start" >b. Excellent performance in</text>
<text x="8.8" y="231.8" font-size="14.3" fill="#000" text-anchor="start" >complex water conditions and</text>
<text x="8.8" y="246.9" font-size="14.3" fill="#000" text-anchor="start" >diverse organic contaminants.</text>
<text x="248.4" y="216.3" font-size="14.3" fill="#000" text-anchor="start" >c. Efficient sulfur resource</text>
<text x="248.4" y="231.7" font-size="14.3" fill="#000" text-anchor="start" >recovery.</text>
<text x="463.4" y="216.5" font-size="14.3" fill="#000" text-anchor="start" >d. Efficient antibacterial</text>
<text x="463.4" y="231.6" font-size="14.3" fill="#000" text-anchor="start" >property.</text>
<rect x="33.1" y="263.8" width="164.7" height="128.7" fill="none" stroke="#222" stroke-width="1"/>
<line x1="29.6" y1="391.8" x2="33.1" y2="391.8" stroke="#222" stroke-width="0.9"/>
<text x="29.8" y="394.8" font-size="8.4" fill="#000" text-anchor="end" >0.0</text>
<line x1="31.1" y1="379.2" x2="33.1" y2="379.2" stroke="#222" stroke-width="0.9"/>
<line x1="29.6" y1="366.7" x2="33.1" y2="366.7" stroke="#222" stroke-width="0.9"/>
<text x="29.8" y="369.7" font-size="8.4" fill="#000" text-anchor="end" >0.2</text>
<line x1="31.1" y1="354.2" x2="33.1" y2="354.2" stroke="#222" stroke-width="0.9"/>
<line x1="29.6" y1="341.6" x2="33.1" y2="341.6" stroke="#222" stroke-width="0.9"/>
<text x="29.8" y="344.6" font-size="8.4" fill="#000" text-anchor="end" >0.4</text>
<line x1="31.1" y1="329.1" x2="33.1" y2="329.1" stroke="#222" stroke-width="0.9"/>
<line x1="29.6" y1="316.5" x2="33.1" y2="316.5" stroke="#222" stroke-width="0.9"/>
<text x="29.8" y="319.5" font-size="8.4" fill="#000" text-anchor="end" >0.6</text>
<line x1="31.1" y1="304.0" x2="33.1" y2="304.0" stroke="#222" stroke-width="0.9"/>
<line x1="29.6" y1="291.4" x2="33.1" y2="291.4" stroke="#222" stroke-width="0.9"/>
<text x="29.8" y="294.4" font-size="8.4" fill="#000" text-anchor="end" >0.8</text>
<line x1="31.1" y1="278.9" x2="33.1" y2="278.9" stroke="#222" stroke-width="0.9"/>
<line x1="29.6" y1="266.3" x2="33.1" y2="266.3" stroke="#222" stroke-width="0.9"/>
<text x="29.8" y="269.3" font-size="8.4" fill="#000" text-anchor="end" >1.0</text>
<line x1="35.8" y1="392.5" x2="35.8" y2="396" stroke="#222" stroke-width="0.9"/>
<text x="35.8" y="405.2" font-size="8.4" fill="#000" text-anchor="middle" >0</text>
<line x1="67.4" y1="392.5" x2="67.4" y2="396" stroke="#222" stroke-width="0.9"/>
<text x="67.4" y="405.2" font-size="8.4" fill="#000" text-anchor="middle" >1</text>
<line x1="99.0" y1="392.5" x2="99.0" y2="396" stroke="#222" stroke-width="0.9"/>
<text x="99.0" y="405.2" font-size="8.4" fill="#000" text-anchor="middle" >2</text>
<line x1="130.6" y1="392.5" x2="130.6" y2="396" stroke="#222" stroke-width="0.9"/>
<text x="130.6" y="405.2" font-size="8.4" fill="#000" text-anchor="middle" >3</text>
<line x1="162.2" y1="392.5" x2="162.2" y2="396" stroke="#222" stroke-width="0.9"/>
<text x="162.2" y="405.2" font-size="8.4" fill="#000" text-anchor="middle" >4</text>
<line x1="193.8" y1="392.5" x2="193.8" y2="396" stroke="#222" stroke-width="0.9"/>
<text x="193.8" y="405.2" font-size="8.4" fill="#000" text-anchor="middle" >5</text>
<line x1="51.6" y1="392.5" x2="51.6" y2="394.5" stroke="#222" stroke-width="0.8"/>
<line x1="83.2" y1="392.5" x2="83.2" y2="394.5" stroke="#222" stroke-width="0.8"/>
<line x1="114.8" y1="392.5" x2="114.8" y2="394.5" stroke="#222" stroke-width="0.8"/>
<line x1="146.4" y1="392.5" x2="146.4" y2="394.5" stroke="#222" stroke-width="0.8"/>
<line x1="178.0" y1="392.5" x2="178.0" y2="394.5" stroke="#222" stroke-width="0.8"/>
<text x="115.5" y="415.8" font-size="9.3" fill="#000" text-anchor="middle" >Time (min)</text>
<text transform="translate(13.6,326.3) rotate(-90)" font-size="10.6" text-anchor="middle">C<tspan font-size="7" dy="2.2">t</tspan><tspan dy="-2.2">/C</tspan><tspan font-size="7" dy="2.2">0</tspan></text>
<polyline points="35.8,266.3 51.6,340.3 67.4,344.1 83.2,347.9 99.0,351.0 130.6,358.5 193.8,366.1" fill="none" stroke="#d4bc1c" stroke-width="1.7"/>
<polyline points="35.8,266.3 51.6,334.1 67.4,340.3 83.2,346.0 99.0,349.1 130.6,357.9 193.8,373.0" fill="none" stroke="#4a6ad8" stroke-width="1.7"/>
<polyline points="35.8,266.3 51.6,321.5 67.4,340.3 83.2,349.1 99.0,362.3 130.6,367.3 193.8,375.5" fill="none" stroke="#9858e0" stroke-width="1.7"/>
<polyline points="35.8,266.3 51.6,371.1 67.4,377.4 83.2,381.8 99.0,384.9 130.6,386.8 193.8,389.9" fill="none" stroke="#ba5a1c" stroke-width="1.7"/>
<circle cx="35.8" cy="266.3" r="2.3" fill="#fff" stroke="#d4bc1c" stroke-width="1"/>
<path d="M35.8 264.0 A2.3 2.3 0 0 1 35.8 268.6 Z" fill="#d4bc1c"/>
<path d="M51.6 336.6V344.1M49.8 336.6h3.6M49.8 344.1h3.6" stroke="#d4bc1c" stroke-width="0.7" opacity="0.8" fill="none"/>
<circle cx="51.6" cy="340.3" r="2.3" fill="#fff" stroke="#d4bc1c" stroke-width="1"/>
<path d="M51.6 338.0 A2.3 2.3 0 0 1 51.6 342.6 Z" fill="#d4bc1c"/>
<path d="M67.4 340.3V347.9M65.6 340.3h3.6M65.6 347.9h3.6" stroke="#d4bc1c" stroke-width="0.7" opacity="0.8" fill="none"/>
<circle cx="67.4" cy="344.1" r="2.3" fill="#fff" stroke="#d4bc1c" stroke-width="1"/>
<path d="M67.4 341.8 A2.3 2.3 0 0 1 67.4 346.4 Z" fill="#d4bc1c"/>
<path d="M83.2 344.1V351.6M81.4 344.1h3.6M81.4 351.6h3.6" stroke="#d4bc1c" stroke-width="0.7" opacity="0.8" fill="none"/>
<circle cx="83.2" cy="347.9" r="2.3" fill="#fff" stroke="#d4bc1c" stroke-width="1"/>
<path d="M83.2 345.6 A2.3 2.3 0 0 1 83.2 350.2 Z" fill="#d4bc1c"/>
<path d="M99.0 347.2V354.8M97.2 347.2h3.6M97.2 354.8h3.6" stroke="#d4bc1c" stroke-width="0.7" opacity="0.8" fill="none"/>
<circle cx="99.0" cy="351.0" r="2.3" fill="#fff" stroke="#d4bc1c" stroke-width="1"/>
<path d="M99.0 348.7 A2.3 2.3 0 0 1 99.0 353.3 Z" fill="#d4bc1c"/>
<path d="M130.6 356.0V361.1M128.8 356.0h3.6M128.8 361.1h3.6" stroke="#d4bc1c" stroke-width="0.7" opacity="0.8" fill="none"/>
<circle cx="130.6" cy="358.5" r="2.3" fill="#fff" stroke="#d4bc1c" stroke-width="1"/>
<path d="M130.6 356.2 A2.3 2.3 0 0 1 130.6 360.8 Z" fill="#d4bc1c"/>
<path d="M193.8 364.2V368.0M192.0 364.2h3.6M192.0 368.0h3.6" stroke="#d4bc1c" stroke-width="0.7" opacity="0.8" fill="none"/>
<circle cx="193.8" cy="366.1" r="2.3" fill="#fff" stroke="#d4bc1c" stroke-width="1"/>
<path d="M193.8 363.8 A2.3 2.3 0 0 1 193.8 368.4 Z" fill="#d4bc1c"/>
<circle cx="35.8" cy="266.3" r="2.3" fill="#fff" stroke="#4a6ad8" stroke-width="1"/>
<path d="M35.8 264.0 A2.3 2.3 0 0 1 35.8 268.6 Z" fill="#4a6ad8"/>
<path d="M51.6 329.1V339.1M49.8 329.1h3.6M49.8 339.1h3.6" stroke="#4a6ad8" stroke-width="0.7" opacity="0.8" fill="none"/>
<circle cx="51.6" cy="334.1" r="2.3" fill="#fff" stroke="#4a6ad8" stroke-width="1"/>
<path d="M51.6 331.8 A2.3 2.3 0 0 1 51.6 336.4 Z" fill="#4a6ad8"/>
<path d="M67.4 334.1V346.6M65.6 334.1h3.6M65.6 346.6h3.6" stroke="#4a6ad8" stroke-width="0.7" opacity="0.8" fill="none"/>
<circle cx="67.4" cy="340.3" r="2.3" fill="#fff" stroke="#4a6ad8" stroke-width="1"/>
<path d="M67.4 338.0 A2.3 2.3 0 0 1 67.4 342.6 Z" fill="#4a6ad8"/>
<path d="M83.2 341.0V351.0M81.4 341.0h3.6M81.4 351.0h3.6" stroke="#4a6ad8" stroke-width="0.7" opacity="0.8" fill="none"/>
<circle cx="83.2" cy="346.0" r="2.3" fill="#fff" stroke="#4a6ad8" stroke-width="1"/>
<path d="M83.2 343.7 A2.3 2.3 0 0 1 83.2 348.3 Z" fill="#4a6ad8"/>
<path d="M99.0 345.4V352.9M97.2 345.4h3.6M97.2 352.9h3.6" stroke="#4a6ad8" stroke-width="0.7" opacity="0.8" fill="none"/>
<circle cx="99.0" cy="349.1" r="2.3" fill="#fff" stroke="#4a6ad8" stroke-width="1"/>
<path d="M99.0 346.8 A2.3 2.3 0 0 1 99.0 351.4 Z" fill="#4a6ad8"/>
<path d="M130.6 352.9V362.9M128.8 352.9h3.6M128.8 362.9h3.6" stroke="#4a6ad8" stroke-width="0.7" opacity="0.8" fill="none"/>
<circle cx="130.6" cy="357.9" r="2.3" fill="#fff" stroke="#4a6ad8" stroke-width="1"/>
<path d="M130.6 355.6 A2.3 2.3 0 0 1 130.6 360.2 Z" fill="#4a6ad8"/>
<path d="M193.8 370.5V375.5M192.0 370.5h3.6M192.0 375.5h3.6" stroke="#4a6ad8" stroke-width="0.7" opacity="0.8" fill="none"/>
<circle cx="193.8" cy="373.0" r="2.3" fill="#fff" stroke="#4a6ad8" stroke-width="1"/>
<path d="M193.8 370.7 A2.3 2.3 0 0 1 193.8 375.3 Z" fill="#4a6ad8"/>
<circle cx="35.8" cy="266.3" r="2.3" fill="#fff" stroke="#9858e0" stroke-width="1"/>
<path d="M35.8 264.0 A2.3 2.3 0 0 1 35.8 268.6 Z" fill="#9858e0"/>
<path d="M51.6 309.0V334.1M49.8 309.0h3.6M49.8 334.1h3.6" stroke="#9858e0" stroke-width="0.7" opacity="0.8" fill="none"/>
<circle cx="51.6" cy="321.5" r="2.3" fill="#fff" stroke="#9858e0" stroke-width="1"/>
<path d="M51.6 319.2 A2.3 2.3 0 0 1 51.6 323.8 Z" fill="#9858e0"/>
<path d="M67.4 335.3V345.4M65.6 335.3h3.6M65.6 345.4h3.6" stroke="#9858e0" stroke-width="0.7" opacity="0.8" fill="none"/>
<circle cx="67.4" cy="340.3" r="2.3" fill="#fff" stroke="#9858e0" stroke-width="1"/>
<path d="M67.4 338.0 A2.3 2.3 0 0 1 67.4 342.6 Z" fill="#9858e0"/>
<path d="M83.2 345.4V352.9M81.4 345.4h3.6M81.4 352.9h3.6" stroke="#9858e0" stroke-width="0.7" opacity="0.8" fill="none"/>
<circle cx="83.2" cy="349.1" r="2.3" fill="#fff" stroke="#9858e0" stroke-width="1"/>
<path d="M83.2 346.8 A2.3 2.3 0 0 1 83.2 351.4 Z" fill="#9858e0"/>
<path d="M99.0 361.1V363.6M97.2 361.1h3.6M97.2 363.6h3.6" stroke="#9858e0" stroke-width="0.7" opacity="0.8" fill="none"/>
<circle cx="99.0" cy="362.3" r="2.3" fill="#fff" stroke="#9858e0" stroke-width="1"/>
<path d="M99.0 360.0 A2.3 2.3 0 0 1 99.0 364.6 Z" fill="#9858e0"/>
<path d="M130.6 366.1V368.6M128.8 366.1h3.6M128.8 368.6h3.6" stroke="#9858e0" stroke-width="0.7" opacity="0.8" fill="none"/>
<circle cx="130.6" cy="367.3" r="2.3" fill="#fff" stroke="#9858e0" stroke-width="1"/>
<path d="M130.6 365.0 A2.3 2.3 0 0 1 130.6 369.6 Z" fill="#9858e0"/>
<path d="M193.8 373.0V378.0M192.0 373.0h3.6M192.0 378.0h3.6" stroke="#9858e0" stroke-width="0.7" opacity="0.8" fill="none"/>
<circle cx="193.8" cy="375.5" r="2.3" fill="#fff" stroke="#9858e0" stroke-width="1"/>
<path d="M193.8 373.2 A2.3 2.3 0 0 1 193.8 377.8 Z" fill="#9858e0"/>
<circle cx="35.8" cy="266.3" r="2.3" fill="#fff" stroke="#ba5a1c" stroke-width="1"/>
<path d="M35.8 264.0 A2.3 2.3 0 0 1 35.8 268.6 Z" fill="#ba5a1c"/>
<path d="M51.6 361.7V380.5M49.8 361.7h3.6M49.8 380.5h3.6" stroke="#ba5a1c" stroke-width="0.7" opacity="0.8" fill="none"/>
<circle cx="51.6" cy="371.1" r="2.3" fill="#fff" stroke="#ba5a1c" stroke-width="1"/>
<path d="M51.6 368.8 A2.3 2.3 0 0 1 51.6 373.4 Z" fill="#ba5a1c"/>
<path d="M67.4 373.6V381.1M65.6 373.6h3.6M65.6 381.1h3.6" stroke="#ba5a1c" stroke-width="0.7" opacity="0.8" fill="none"/>
<circle cx="67.4" cy="377.4" r="2.3" fill="#fff" stroke="#ba5a1c" stroke-width="1"/>
<path d="M67.4 375.1 A2.3 2.3 0 0 1 67.4 379.7 Z" fill="#ba5a1c"/>
<path d="M83.2 378.0V385.5M81.4 378.0h3.6M81.4 385.5h3.6" stroke="#ba5a1c" stroke-width="0.7" opacity="0.8" fill="none"/>
<circle cx="83.2" cy="381.8" r="2.3" fill="#fff" stroke="#ba5a1c" stroke-width="1"/>
<path d="M83.2 379.5 A2.3 2.3 0 0 1 83.2 384.1 Z" fill="#ba5a1c"/>
<path d="M99.0 383.6V386.2M97.2 383.6h3.6M97.2 386.2h3.6" stroke="#ba5a1c" stroke-width="0.7" opacity="0.8" fill="none"/>
<circle cx="99.0" cy="384.9" r="2.3" fill="#fff" stroke="#ba5a1c" stroke-width="1"/>
<path d="M99.0 382.6 A2.3 2.3 0 0 1 99.0 387.2 Z" fill="#ba5a1c"/>
<path d="M130.6 385.8V387.8M128.8 385.8h3.6M128.8 387.8h3.6" stroke="#ba5a1c" stroke-width="0.7" opacity="0.8" fill="none"/>
<circle cx="130.6" cy="386.8" r="2.3" fill="#fff" stroke="#ba5a1c" stroke-width="1"/>
<path d="M130.6 384.5 A2.3 2.3 0 0 1 130.6 389.1 Z" fill="#ba5a1c"/>
<path d="M193.8 388.9V390.9M192.0 388.9h3.6M192.0 390.9h3.6" stroke="#ba5a1c" stroke-width="0.7" opacity="0.8" fill="none"/>
<circle cx="193.8" cy="389.9" r="2.3" fill="#fff" stroke="#ba5a1c" stroke-width="1"/>
<path d="M193.8 387.6 A2.3 2.3 0 0 1 193.8 392.2 Z" fill="#ba5a1c"/>
<line x1="56.5" y1="281.4" x2="72.8" y2="281.4" stroke="#ba5a1c" stroke-width="1.6"/>
<circle cx="64.6" cy="281.4" r="2.3" fill="#fff" stroke="#ba5a1c" stroke-width="1"/>
<path d="M64.6 279.1 A2.3 2.3 0 0 1 64.6 283.7 Z" fill="#ba5a1c"/>
<text x="76.6" y="284.3" font-size="8.1" fill="#000" text-anchor="start" >Control</text>
<line x1="56.5" y1="291.9" x2="72.8" y2="291.9" stroke="#9858e0" stroke-width="1.6"/>
<circle cx="64.6" cy="291.9" r="2.3" fill="#fff" stroke="#9858e0" stroke-width="1"/>
<path d="M64.6 289.6 A2.3 2.3 0 0 1 64.6 294.2 Z" fill="#9858e0"/>
<text x="76.6" y="294.8" font-size="8.1" fill="#000" text-anchor="start" >Brackish Water</text>
<line x1="56.5" y1="302.2" x2="72.8" y2="302.2" stroke="#4a6ad8" stroke-width="1.6"/>
<circle cx="64.6" cy="302.2" r="2.3" fill="#fff" stroke="#4a6ad8" stroke-width="1"/>
<path d="M64.6 299.9 A2.3 2.3 0 0 1 64.6 304.5 Z" fill="#4a6ad8"/>
<text x="76.6" y="305.1" font-size="8.1" fill="#000" text-anchor="start" >Tap Water</text>
<line x1="56.5" y1="312.2" x2="72.8" y2="312.2" stroke="#d4bc1c" stroke-width="1.6"/>
<circle cx="64.6" cy="312.2" r="2.3" fill="#fff" stroke="#d4bc1c" stroke-width="1"/>
<path d="M64.6 309.9 A2.3 2.3 0 0 1 64.6 314.5 Z" fill="#d4bc1c"/>
<text x="76.6" y="315.1" font-size="8.1" fill="#000" text-anchor="start" >Municipal Sewage</text>
<rect x="115.2" y="269.8" width="78" height="11.6" fill="#000"/>
<rect x="113.4" y="268" width="78" height="11.6" fill="#fff" stroke="#000" stroke-width="0.8"/>
<text x="152.4" y="277.2" font-size="8.8" fill="#000" text-anchor="middle" >Actual wastewater</text>
<rect x="36.7" y="430.0" width="14.0" height="128.0" fill="url(#gb_b)"/>
<rect x="50.7" y="483.7" width="14.2" height="74.3" fill="url(#gb_p)"/>
<path d="M57.8 474.4V493.3M55.8 474.4h4M55.8 493.3h4" stroke="#444" stroke-width="0.7" fill="none"/>
<rect x="72.15" y="430.0" width="14.0" height="128.0" fill="url(#gb_b)"/>
<rect x="86.15" y="441.9" width="14.2" height="116.1" fill="url(#gb_p)"/>
<path d="M93.2 440.4V444.3M91.2 440.4h4M91.2 444.3h4" stroke="#444" stroke-width="0.7" fill="none"/>
<rect x="107.60000000000001" y="439.0" width="14.0" height="119.0" fill="url(#gb_b)"/>
<rect x="121.60000000000001" y="499.0" width="14.2" height="59.0" fill="url(#gb_p)"/>
<path d="M128.7 495.1V504M126.7 495.1h4M126.7 504h4" stroke="#444" stroke-width="0.7" fill="none"/>
<path d="M114.6 437.9V440.4M112.6 437.9h4M112.6 440.4h4" stroke="#444" stroke-width="0.7" fill="none"/>
<rect x="143.05" y="433.8" width="14.0" height="124.2" fill="url(#gb_b)"/>
<rect x="157.05" y="474.8" width="14.2" height="83.2" fill="url(#gb_p)"/>
<path d="M164.2 470.8V478M162.2 470.8h4M162.2 478h4" stroke="#444" stroke-width="0.7" fill="none"/>
<path d="M150.1 432.8V435.2M148.1 432.8h4M148.1 435.2h4" stroke="#444" stroke-width="0.7" fill="none"/>
<rect x="178.5" y="432.6" width="14.0" height="125.4" fill="url(#gb_b)"/>
<rect x="192.5" y="460.5" width="14.2" height="97.5" fill="url(#gb_p)"/>
<path d="M199.6 456.8V462.9M197.6 456.8h4M197.6 462.9h4" stroke="#444" stroke-width="0.7" fill="none"/>
<path d="M185.5 431.4V434M183.5 431.4h4M183.5 434h4" stroke="#444" stroke-width="0.7" fill="none"/>
<line x1="34" y1="429.4" x2="211" y2="429.4" stroke="#666" stroke-width="0.8"/>
<line x1="34" y1="558.3" x2="211" y2="558.3" stroke="#555" stroke-width="1"/>
<line x1="34" y1="429" x2="34" y2="558.6" stroke="#5b7bbd" stroke-width="1.1"/>
<line x1="211" y1="429" x2="211" y2="558.6" stroke="#4e4480" stroke-width="1.1"/>
<line x1="30.5" y1="558.0" x2="34" y2="558.0" stroke="#5b7bbd" stroke-width="0.9"/>
<text x="29.5" y="561.0" font-size="8.4" fill="#5b7bbd" text-anchor="end" >0</text>
<line x1="32" y1="545.2" x2="34" y2="545.2" stroke="#5b7bbd" stroke-width="0.9"/>
<line x1="30.5" y1="532.4" x2="34" y2="532.4" stroke="#5b7bbd" stroke-width="0.9"/>
<text x="29.5" y="535.4" font-size="8.4" fill="#5b7bbd" text-anchor="end" >20</text>
<line x1="32" y1="519.6" x2="34" y2="519.6" stroke="#5b7bbd" stroke-width="0.9"/>
<line x1="30.5" y1="506.8" x2="34" y2="506.8" stroke="#5b7bbd" stroke-width="0.9"/>
<text x="29.5" y="509.8" font-size="8.4" fill="#5b7bbd" text-anchor="end" >40</text>
<line x1="32" y1="494.0" x2="34" y2="494.0" stroke="#5b7bbd" stroke-width="0.9"/>
<line x1="30.5" y1="481.2" x2="34" y2="481.2" stroke="#5b7bbd" stroke-width="0.9"/>
<text x="29.5" y="484.2" font-size="8.4" fill="#5b7bbd" text-anchor="end" >60</text>
<line x1="32" y1="468.4" x2="34" y2="468.4" stroke="#5b7bbd" stroke-width="0.9"/>
<line x1="30.5" y1="455.6" x2="34" y2="455.6" stroke="#5b7bbd" stroke-width="0.9"/>
<text x="29.5" y="458.6" font-size="8.4" fill="#5b7bbd" text-anchor="end" >80</text>
<line x1="32" y1="442.8" x2="34" y2="442.8" stroke="#5b7bbd" stroke-width="0.9"/>
<line x1="30.5" y1="430.0" x2="34" y2="430.0" stroke="#5b7bbd" stroke-width="0.9"/>
<text x="29.5" y="433.0" font-size="8.4" fill="#5b7bbd" text-anchor="end" >100</text>
<line x1="211" y1="558.0" x2="214.5" y2="558.0" stroke="#4e4480" stroke-width="0.9"/>
<text x="215.5" y="561.0" font-size="8.4" fill="#4e4480" text-anchor="start" >0.0</text>
<line x1="211" y1="538.0" x2="213" y2="538.0" stroke="#4e4480" stroke-width="0.9"/>
<line x1="211" y1="518.1" x2="214.5" y2="518.1" stroke="#4e4480" stroke-width="0.9"/>
<text x="215.5" y="521.1" font-size="8.4" fill="#4e4480" text-anchor="start" >0.2</text>
<line x1="211" y1="498.1" x2="213" y2="498.1" stroke="#4e4480" stroke-width="0.9"/>
<line x1="211" y1="478.2" x2="214.5" y2="478.2" stroke="#4e4480" stroke-width="0.9"/>
<text x="215.5" y="481.2" font-size="8.4" fill="#4e4480" text-anchor="start" >0.4</text>
<line x1="211" y1="458.2" x2="213" y2="458.2" stroke="#4e4480" stroke-width="0.9"/>
<line x1="211" y1="438.3" x2="214.5" y2="438.3" stroke="#4e4480" stroke-width="0.9"/>
<text x="215.5" y="441.3" font-size="8.4" fill="#4e4480" text-anchor="start" >0.6</text>
<line x1="50.7" y1="558.3" x2="50.7" y2="561.5" stroke="#333" stroke-width="0.9"/>
<text x="50.7" y="569.6" font-size="8.4" fill="#000" text-anchor="middle" >MB</text>
<line x1="86.2" y1="558.3" x2="86.2" y2="561.5" stroke="#333" stroke-width="0.9"/>
<text x="86.2" y="569.6" font-size="8.4" fill="#000" text-anchor="middle" >RhB</text>
<line x1="121.6" y1="558.3" x2="121.6" y2="561.5" stroke="#333" stroke-width="0.9"/>
<text x="121.6" y="569.6" font-size="8.4" fill="#000" text-anchor="middle" >CBZ</text>
<line x1="157.1" y1="558.3" x2="157.1" y2="561.5" stroke="#333" stroke-width="0.9"/>
<text x="157.1" y="569.6" font-size="8.4" fill="#000" text-anchor="middle" >SMX</text>
<line x1="192.5" y1="558.3" x2="192.5" y2="561.5" stroke="#333" stroke-width="0.9"/>
<text x="192.5" y="569.6" font-size="8.4" fill="#000" text-anchor="middle" >IBP</text>
<text transform="translate(15.6,493.5) rotate(-90)" font-size="8.6" fill="#6680c2" text-anchor="middle">Removal efficiency (%)</text>
<text transform="translate(231.5,494.5) rotate(90)" font-size="9.4" fill="#4e4480" text-anchor="middle"><tspan font-style="italic">k</tspan><tspan font-size="6.3" dy="2">obs</tspan><tspan dy="-2"> (min</tspan><tspan font-size="6.3" dy="-3.5">-1</tspan><tspan dy="3.5">)</tspan></text>
<path d="M407.7 296.5 L422.5 331 L417.3 331 L417.3 375.2 L400.8 375.2 L400.8 331 L394.7 331 Z" fill="url(#gc_arr)" filter="url(#blr)"/>
<rect x="273.7" y="261.6" width="170.2" height="134" fill="none" stroke="#222" stroke-width="1"/>
<line x1="270.2" y1="392.6" x2="273.7" y2="392.6" stroke="#222" stroke-width="0.9"/>
<text x="270.0" y="395.4" font-size="7.7" fill="#000" text-anchor="end" >0</text>
<line x1="271.7" y1="379.5" x2="273.7" y2="379.5" stroke="#222" stroke-width="0.9"/>
<line x1="270.2" y1="366.4" x2="273.7" y2="366.4" stroke="#222" stroke-width="0.9"/>
<text x="270.0" y="369.2" font-size="7.7" fill="#000" text-anchor="end" >50</text>
<line x1="271.7" y1="353.3" x2="273.7" y2="353.3" stroke="#222" stroke-width="0.9"/>
<line x1="270.2" y1="340.2" x2="273.7" y2="340.2" stroke="#222" stroke-width="0.9"/>
<text x="270.0" y="343.0" font-size="7.7" fill="#000" text-anchor="end" >100</text>
<line x1="271.7" y1="327.1" x2="273.7" y2="327.1" stroke="#222" stroke-width="0.9"/>
<line x1="270.2" y1="314.0" x2="273.7" y2="314.0" stroke="#222" stroke-width="0.9"/>
<text x="270.0" y="316.8" font-size="7.7" fill="#000" text-anchor="end" >150</text>
<line x1="271.7" y1="300.9" x2="273.7" y2="300.9" stroke="#222" stroke-width="0.9"/>
<line x1="270.2" y1="287.8" x2="273.7" y2="287.8" stroke="#222" stroke-width="0.9"/>
<text x="270.0" y="290.6" font-size="7.7" fill="#000" text-anchor="end" >200</text>
<line x1="271.7" y1="274.7" x2="273.7" y2="274.7" stroke="#222" stroke-width="0.9"/>
<line x1="270.2" y1="261.6" x2="273.7" y2="261.6" stroke="#222" stroke-width="0.9"/>
<text x="270.0" y="264.4" font-size="7.7" fill="#000" text-anchor="end" >250</text>
<line x1="292.1" y1="395.6" x2="292.1" y2="399" stroke="#222" stroke-width="0.9"/>
<text x="292.1" y="404.8" font-size="8.2" fill="#000" text-anchor="middle" >400</text>
<line x1="329.1" y1="395.6" x2="329.1" y2="399" stroke="#222" stroke-width="0.9"/>
<text x="329.1" y="404.8" font-size="8.2" fill="#000" text-anchor="middle" >800</text>
<line x1="366.1" y1="395.6" x2="366.1" y2="399" stroke="#222" stroke-width="0.9"/>
<text x="366.1" y="404.8" font-size="8.2" fill="#000" text-anchor="middle" >1200</text>
<line x1="403.1" y1="395.6" x2="403.1" y2="399" stroke="#222" stroke-width="0.9"/>
<text x="403.1" y="404.8" font-size="8.2" fill="#000" text-anchor="middle" >1600</text>
<line x1="440.1" y1="395.6" x2="440.1" y2="399" stroke="#222" stroke-width="0.9"/>
<text x="440.1" y="404.8" font-size="8.2" fill="#000" text-anchor="middle" >2000</text>
<line x1="310.6" y1="395.6" x2="310.6" y2="397.5" stroke="#222" stroke-width="0.8"/>
<line x1="347.6" y1="395.6" x2="347.6" y2="397.5" stroke="#222" stroke-width="0.8"/>
<line x1="384.6" y1="395.6" x2="384.6" y2="397.5" stroke="#222" stroke-width="0.8"/>
<line x1="421.6" y1="395.6" x2="421.6" y2="397.5" stroke="#222" stroke-width="0.8"/>
<text x="364.6" y="412.8" font-size="8.5" fill="#000" text-anchor="middle" >Time (s)</text>
<text transform="translate(255.4,327.8) rotate(-90)" font-size="8.2" text-anchor="middle">The Concentration of SO<tspan font-size="5.6" dy="2">4</tspan><tspan font-size="5.6" dy="-5">2-</tspan><tspan dy="3"> (mmol·L</tspan><tspan font-size="5.6" dy="-3">-1</tspan><tspan dy="3">)</tspan></text>
<line x1="282.9" y1="368.0" x2="421.6" y2="286.8" stroke="#c0392b" stroke-width="1.2"/>
<line x1="282.9" y1="391.6" x2="421.6" y2="389.5" stroke="#4b5fbf" stroke-width="1.4"/>
<path d="M282.9 369.0V371.1M280.9 369.0h4M280.9 371.1h4" stroke="#c07830" stroke-width="0.8" fill="none"/>
<circle cx="282.9" cy="370.1" r="2.1" fill="#d2691e"/>
<path d="M310.6 345.4V353.8M308.6 345.4h4M308.6 353.8h4" stroke="#c07830" stroke-width="0.8" fill="none"/>
<circle cx="310.6" cy="349.6" r="2.1" fill="#d2691e"/>
<path d="M338.4 323.4V344.4M336.4 323.4h4M336.4 344.4h4" stroke="#c07830" stroke-width="0.8" fill="none"/>
<circle cx="338.4" cy="333.9" r="2.1" fill="#d2691e"/>
<path d="M366.1 303.0V331.3M364.1 303.0h4M364.1 331.3h4" stroke="#c07830" stroke-width="0.8" fill="none"/>
<circle cx="366.1" cy="317.1" r="2.1" fill="#d2691e"/>
<path d="M421.6 282.0V293.6M419.6 282.0h4M419.6 293.6h4" stroke="#c07830" stroke-width="0.8" fill="none"/>
<circle cx="421.6" cy="287.8" r="2.1" fill="#d2691e"/>
<path d="M282.9 391.0V392.1M280.9 391.0h4M280.9 392.1h4" stroke="#4b5fbf" stroke-width="0.8" fill="none"/>
<circle cx="282.9" cy="391.6" r="1.9" fill="#6a78c4" stroke="#4b5fbf" stroke-width="0.5"/>
<path d="M310.6 388.9V393.1M308.6 388.9h4M308.6 393.1h4" stroke="#4b5fbf" stroke-width="0.8" fill="none"/>
<circle cx="310.6" cy="391.0" r="1.9" fill="#6a78c4" stroke="#4b5fbf" stroke-width="0.5"/>
<path d="M338.4 387.4V393.6M336.4 387.4h4M336.4 393.6h4" stroke="#4b5fbf" stroke-width="0.8" fill="none"/>
<circle cx="338.4" cy="390.5" r="1.9" fill="#6a78c4" stroke="#4b5fbf" stroke-width="0.5"/>
<path d="M366.1 385.3V394.7M364.1 385.3h4M364.1 394.7h4" stroke="#4b5fbf" stroke-width="0.8" fill="none"/>
<circle cx="366.1" cy="390.0" r="1.9" fill="#6a78c4" stroke="#4b5fbf" stroke-width="0.5"/>
<path d="M421.6 385.3V393.6M419.6 385.3h4M419.6 393.6h4" stroke="#4b5fbf" stroke-width="0.8" fill="none"/>
<circle cx="421.6" cy="389.5" r="1.9" fill="#6a78c4" stroke="#4b5fbf" stroke-width="0.5"/>
<circle cx="281.5" cy="268.4" r="1.8" fill="#d2691e"/>
<circle cx="281.5" cy="278.6" r="1.8" fill="#5a68b8"/>
<text x="290.6" y="271.4" font-size="8.2" fill="#000" text-anchor="start" >CMCN + aeration</text>
<text x="290.6" y="282.1" font-size="8.2" fill="#000" text-anchor="start" >Only with aeration</text>
<text x="359.6" y="338.9" font-size="7.6" fill="#b5302a" text-anchor="start" ><tspan font-style="italic">k</tspan> = 0.103 mmol·L<tspan font-size="5.3" dy="-3">-1</tspan><tspan dy="3">·s</tspan><tspan font-size="5.3" dy="-3">-1</tspan></text>
<text x="359.6" y="349.6" font-size="7.9" fill="#b5302a" text-anchor="start" >R<tspan font-size="5.5" dy="-3">2</tspan><tspan dy="3"> = 0.997</tspan></text>
<text x="359.6" y="372.6" font-size="7.6" fill="#4d5db5" text-anchor="start" ><tspan font-style="italic">k</tspan> = 0.003 mmol·L<tspan font-size="5.3" dy="-3">-1</tspan><tspan dy="3">·s</tspan><tspan font-size="5.3" dy="-3">-1</tspan></text>
<text x="359.6" y="384.0" font-size="7.9" fill="#4d5db5" text-anchor="start" >R<tspan font-size="5.5" dy="-3">2</tspan><tspan dy="3"> = 0.950</tspan></text>
<polyline points="269.7,519.5 343.8,496.5 431.9,515.8" fill="none" stroke="#dddddd" stroke-width="0.6"/>
<polyline points="268.9,499.6 343.8,479.2 432.2,496.4" fill="none" stroke="#dddddd" stroke-width="0.6"/>
<polyline points="268.1,479.8 343.8,462.1 432.6,477.1" fill="none" stroke="#dddddd" stroke-width="0.6"/>
<polyline points="267.3,460.0 343.8,444.9 433.0,457.8" fill="none" stroke="#dddddd" stroke-width="0.6"/>
<polyline points="266.5,439.5 343.8,427.2 433.4,437.8" fill="none" stroke="#dddddd" stroke-width="0.6"/>
<line x1="285.4" y1="424.5" x2="288.8" y2="531.6" stroke="#dddddd" stroke-width="0.6"/>
<line x1="366.2" y1="418.8" x2="365.7" y2="517.8" stroke="#dddddd" stroke-width="0.6"/>
<line x1="304.9" y1="421.9" x2="307.1" y2="525.2" stroke="#dddddd" stroke-width="0.6"/>
<line x1="388.7" y1="421.1" x2="387.6" y2="523.1" stroke="#dddddd" stroke-width="0.6"/>
<line x1="324.4" y1="419.2" x2="325.5" y2="518.9" stroke="#dddddd" stroke-width="0.6"/>
<line x1="411.2" y1="423.5" x2="409.6" y2="528.5" stroke="#dddddd" stroke-width="0.6"/>
<line x1="288.8" y1="531.6" x2="378.1" y2="563.9" stroke="#dddddd" stroke-width="0.6"/>
<line x1="292.8" y1="546.1" x2="366.1" y2="520.6" stroke="#dddddd" stroke-width="0.6"/>
<line x1="307.1" y1="525.2" x2="396.5" y2="557.5" stroke="#dddddd" stroke-width="0.6"/>
<line x1="315.1" y1="554.1" x2="388.5" y2="528.7" stroke="#dddddd" stroke-width="0.6"/>
<line x1="325.5" y1="518.9" x2="414.8" y2="551.2" stroke="#dddddd" stroke-width="0.6"/>
<line x1="337.5" y1="562.2" x2="410.8" y2="536.7" stroke="#dddddd" stroke-width="0.6"/>
<polyline points="266,427.2 343.8,416.5 433.6,425.8 431.5,533.8" fill="none" stroke="#bbb" stroke-width="0.7"/>
<line x1="343.8" y1="416.5" x2="343.8" y2="512.5" stroke="#ccc" stroke-width="0.7"/>
<polyline points="343.8,512.5 270.5,538" fill="none" stroke="#bbb" stroke-width="0.6"/>
<polyline points="343.8,512.5 431.5,533.8" fill="none" stroke="#bbb" stroke-width="0.6"/>
<polyline points="266,427.2 270.5,538 359.8,570.3 431.5,533.8" fill="none" stroke="#333" stroke-width="0.9"/>
<line x1="268.0" y1="538.2" x2="270.5" y2="538.2" stroke="#333" stroke-width="0.7"/>
<text x="267.5" y="543.4" font-size="6.2" fill="#222" text-anchor="end" transform="rotate(-8 266.5 541.2)">0.0</text>
<line x1="267.2" y1="519.5" x2="269.7" y2="519.5" stroke="#333" stroke-width="0.7"/>
<text x="266.7" y="524.3" font-size="6.2" fill="#222" text-anchor="end" transform="rotate(-8 265.7 522.1)">0.2</text>
<line x1="266.4" y1="499.6" x2="268.9" y2="499.6" stroke="#333" stroke-width="0.7"/>
<text x="265.9" y="504.5" font-size="6.2" fill="#222" text-anchor="end" transform="rotate(-8 264.9 502.3)">0.4</text>
<line x1="265.6" y1="479.8" x2="268.1" y2="479.8" stroke="#333" stroke-width="0.7"/>
<text x="265.1" y="484.0" font-size="6.2" fill="#222" text-anchor="end" transform="rotate(-8 264.1 481.8)">0.6</text>
<line x1="264.8" y1="460.0" x2="267.3" y2="460.0" stroke="#333" stroke-width="0.7"/>
<text x="264.3" y="462.9" font-size="6.2" fill="#222" text-anchor="end" transform="rotate(-8 263.3 460.7)">0.8</text>
<line x1="264.0" y1="439.5" x2="266.5" y2="439.5" stroke="#333" stroke-width="0.7"/>
<text x="263.5" y="441.8" font-size="6.2" fill="#222" text-anchor="end" transform="rotate(-8 262.5 439.6)">1.0</text>
<text transform="translate(251.5,496) rotate(95)" font-size="6.5" fill="#222" text-anchor="middle">TOF (s<tspan font-size="4.5" dy="-2">-1</tspan><tspan dy="2">)</tspan></text>
<text x="272.0" y="545.0" font-size="5" fill="#333" text-anchor="middle" transform="rotate(200 272.0 545.0)">0.2</text>
<text x="290.3" y="552.0" font-size="5" fill="#333" text-anchor="middle" transform="rotate(200 290.3 552.0)">0.4</text>
<text x="308.6" y="559.0" font-size="5" fill="#333" text-anchor="middle" transform="rotate(200 308.6 559.0)">0.6</text>
<text x="326.9" y="566.0" font-size="5" fill="#333" text-anchor="middle" transform="rotate(200 326.9 566.0)">0.8</text>
<text transform="translate(297,561) rotate(200)" font-size="5.6" fill="#333" text-anchor="middle" font-style="italic">Catalyst dosage (g·L<tspan font-size="4" dy="-2">-1</tspan><tspan dy="2">)</tspan></text>
<text x="368.0" y="571.0" font-size="5" fill="#333" text-anchor="middle" transform="rotate(-28 368.0 571.0)">1.0</text>
<text x="390.5" y="559.3" font-size="5" fill="#333" text-anchor="middle" transform="rotate(-28 390.5 559.3)">2.0</text>
<text x="413.0" y="547.6" font-size="5" fill="#333" text-anchor="middle" transform="rotate(-28 413.0 547.6)">3.0</text>
<text x="435.5" y="535.9" font-size="5" fill="#333" text-anchor="middle" transform="rotate(-28 435.5 535.9)">4.0</text>
<text transform="translate(411,557.5) rotate(-27)" font-size="5.6" fill="#333" text-anchor="middle">Co concentration (wt%)</text>
<path d="M283.2 429 L287.9 429 L290.6 537.5 L286.6 537.5 Z" fill="url(#g3bar)"/>
<ellipse cx="288.6" cy="537.8" rx="2" ry="1.2" fill="#8a4208"/>
<ellipse cx="285.5" cy="429" rx="2.35" ry="0.9" fill="#c8783a"/>
<text x="290.1" y="432.9" font-size="7.9" fill="#b3373a" text-anchor="start" >CMCN</text>
<text x="290.2" y="441.5" font-size="7.4" fill="#b3373a" text-anchor="start" >TOF = 1.087 s<tspan font-size="5.2" dy="-3">-1</tspan></text>
<rect x="307.8" y="541" width="5.8" height="8.7" fill="#8d88c4"/>
<rect x="311.0" y="541" width="2.6" height="8.7" fill="#6d68a8"/>
<rect x="359.8" y="560.7" width="4.4" height="6.1" fill="#8d88c4"/>
<rect x="362.2" y="560.7" width="2.0" height="6.1" fill="#6d68a8"/>
<rect x="370.3" y="557.2" width="3.5" height="4.3" fill="#8d88c4"/>
<rect x="372.2" y="557.2" width="1.6" height="4.3" fill="#6d68a8"/>
<rect x="342.3" y="515" width="3.5" height="4.5" fill="#8d88c4"/>
<rect x="344.2" y="515" width="1.6" height="4.5" fill="#6d68a8"/>
<ellipse cx="373" cy="521.6" rx="2.2" ry="1" fill="#6d68a8"/>
<ellipse cx="365.9" cy="525.1" rx="2.2" ry="1" fill="#6d68a8"/>
<ellipse cx="351.9" cy="530.9" rx="2.2" ry="1" fill="#6d68a8"/>
<line x1="300" y1="534" x2="309" y2="542" stroke="#333" stroke-width="0.5"/>
<line x1="322" y1="539.5" x2="313" y2="543" stroke="#333" stroke-width="0.5"/>
<line x1="345" y1="549" x2="361" y2="561" stroke="#333" stroke-width="0.5"/>
<line x1="369" y1="552" x2="372" y2="557.5" stroke="#333" stroke-width="0.5"/>
<line x1="381" y1="517" x2="374" y2="521" stroke="#333" stroke-width="0.5"/>
<line x1="383" y1="527" x2="367" y2="525" stroke="#333" stroke-width="0.5"/>
<line x1="376" y1="531" x2="353" y2="530.5" stroke="#333" stroke-width="0.5"/>
<text x="320.2" y="524.2" font-size="6.3" fill="#222" text-anchor="start" >OV-CoO/CeO<tspan font-size="4.4" dy="1.5">2</tspan></text>
<text x="383.4" y="518.6" font-size="6.3" fill="#222" text-anchor="start" >Co-MOF-74</text>
<text x="383.4" y="528.3" font-size="6.3" fill="#222" text-anchor="start" >Co-N-C@Co</text>
<text x="375.5" y="532.7" font-size="6.3" fill="#222" text-anchor="start" >Co-C<tspan font-size="4.4" dy="1.5">3</tspan><tspan dy="-1.5">N</tspan><tspan font-size="4.4" dy="1.5">4</tspan></text>
<text x="351.9" y="537.9" font-size="6.3" fill="#222" text-anchor="start" >Mn@ZIF-67</text>
<text x="291.7" y="533.2" font-size="6.3" fill="#222" text-anchor="start" >Co-N-C NSs</text>
<text x="316.2" y="538.8" font-size="6.3" fill="#222" text-anchor="start" >Co-SBA15</text>
<text x="335.3" y="548.4" font-size="6.3" fill="#222" text-anchor="start" >Co-KIT6</text>
<text x="361.5" y="551.0" font-size="6.3" fill="#222" text-anchor="start" >Co(OH)<tspan font-size="4.4" dy="1.5">2</tspan><tspan dy="-1.5">/TiO</tspan><tspan font-size="4.4" dy="1.5">2</tspan></text>
<text x="356.3" y="557.7" font-size="6.3" fill="#222" text-anchor="end" >Co-MCM-41</text>
<path d="M326 509.5 C311 501 300 493 298.5 481 L294.4 480.7 L301.6 459.1 L315.4 481.2 L310.5 481 C312.5 492 320 502 331 509.5 Z" fill="url(#g3ca)" stroke="#86a2d6" stroke-width="1.05" stroke-linejoin="round"/>
<line x1="330" y1="463" x2="321.0" y2="460.3" stroke="#e8d820" stroke-width="3.3"/>
<line x1="321.0" y1="460.3" x2="312" y2="457.6" stroke="#d82020" stroke-width="3.3"/>
<line x1="330" y1="463" x2="336.8" y2="455.6" stroke="#e8d820" stroke-width="3.3"/>
<line x1="336.8" y1="455.6" x2="343.6" y2="448.2" stroke="#d82020" stroke-width="3.3"/>
<line x1="330" y1="463" x2="332.6" y2="471.6" stroke="#e8d820" stroke-width="3.3"/>
<line x1="332.6" y1="471.6" x2="335.2" y2="480.2" stroke="#d82020" stroke-width="3.3"/>
<circle cx="330" cy="463" r="3.6" fill="url(#gS)"/>
<circle cx="312" cy="457.6" r="4.6" fill="url(#gO)"/>
<circle cx="343.6" cy="448.2" r="4.6" fill="url(#gO)"/>
<circle cx="335.2" cy="480.2" r="4.6" fill="url(#gO)"/>
<line x1="407.3" y1="461.6" x2="403.4" y2="454.6" stroke="#e8d820" stroke-width="3.3"/>
<line x1="403.4" y1="454.6" x2="399.5" y2="447.6" stroke="#d82020" stroke-width="3.3"/>
<circle cx="399.5" cy="447.6" r="5" fill="url(#gO)"/>
<line x1="407.3" y1="461.6" x2="414.0" y2="454.4" stroke="#e8d820" stroke-width="3.3"/>
<line x1="414.0" y1="454.4" x2="420.7" y2="447.1" stroke="#d82020" stroke-width="3.3"/>
<circle cx="420.7" cy="447.1" r="5" fill="url(#gO)"/>
<line x1="407.3" y1="461.6" x2="397.6" y2="466.3" stroke="#e8d820" stroke-width="3.3"/>
<line x1="397.6" y1="466.3" x2="387.8" y2="471" stroke="#d82020" stroke-width="3.3"/>
<line x1="407.3" y1="461.6" x2="414.6" y2="470.6" stroke="#e8d820" stroke-width="3.3"/>
<line x1="414.6" y1="470.6" x2="422" y2="479.6" stroke="#d82020" stroke-width="3.3"/>
<circle cx="407.3" cy="461.6" r="4" fill="url(#gS)"/>
<circle cx="387.8" cy="471" r="5" fill="url(#gO)"/>
<circle cx="422" cy="479.6" r="5" fill="url(#gO)"/>
<path d="M341 460.3 H377.3 V456.9 L385.4 462 L377.3 467.1 V463.7 H341 Z" fill="#000"/>
<text x="362.5" y="457.7" font-size="8.7" fill="#c8202a" text-anchor="middle" >Air</text>
<text x="364.3" y="474.5" font-size="8.7" fill="#c8202a" text-anchor="middle" >CMCN</text>
<text x="321.8" y="495.8" font-size="8.8" fill="#000" text-anchor="start" >M<tspan font-size="6" dy="2">x</tspan><tspan dy="-2">SO</tspan><tspan font-size="6" dy="2">3</tspan></text>
<text x="372.9" y="494.9" font-size="8.8" fill="#000" text-anchor="start" >M<tspan font-size="6.5" dy="2">x</tspan><tspan dy="-2">SO</tspan><tspan font-size="6.5" dy="2">4</tspan><tspan dy="-2">·H</tspan><tspan font-size="6.5" dy="2">2</tspan><tspan dy="-2">O</tspan></text>
<text x="372.9" y="505.0" font-size="9" fill="#000" text-anchor="start" >(M: Ca, Mg, Na…)</text>
<rect x="497" y="279.5" width="16.8" height="115.5" fill="url(#gd_o)"/>
<rect x="513.8" y="279.5" width="16.7" height="115.5" fill="url(#gd_b)"/>
<rect x="538.3" y="386.1" width="16.7" height="8.9" fill="url(#gd_o)"/>
<rect x="555" y="285.4" width="16.9" height="109.6" fill="url(#gd_b)"/>
<rect x="580" y="389.6" width="16.0" height="5.4" fill="url(#gd_o)"/>
<rect x="596" y="299.5" width="16.0" height="95.5" fill="url(#gd_b)"/>
<rect x="621.2" y="391.2" width="16.8" height="3.8" fill="url(#gd_o)"/>
<rect x="638" y="302.3" width="16.8" height="92.7" fill="url(#gd_b)"/>
<rect x="538.3" y="386.1" width="16.7" height="8.9" fill="url(#gd_os)"/>
<rect x="580" y="389.6" width="16.0" height="5.4" fill="url(#gd_os)"/>
<rect x="621.2" y="391.2" width="16.8" height="3.8" fill="url(#gd_os)"/>
<path d="M546.6 382.4V391.3M544.6 382.4h4M544.6 391.3h4" stroke="#222" stroke-width="0.8" fill="none"/>
<path d="M588 388.8V390.2M586 388.8h4M586 390.2h4" stroke="#222" stroke-width="0.8" fill="none"/>
<path d="M629.6 389.8V392.4M627.6 389.8h4M627.6 392.4h4" stroke="#222" stroke-width="0.8" fill="none"/>
<path d="M563.5 283.6V287.2M561.5 283.6h4M561.5 287.2h4" stroke="#222" stroke-width="0.8" fill="none"/>
<path d="M604.5 296V302.7M602.5 296h4M602.5 302.7h4" stroke="#222" stroke-width="0.8" fill="none"/>
<path d="M646.4 299.4V306M644.4 299.4h4M644.4 306h4" stroke="#222" stroke-width="0.8" fill="none"/>
<rect x="492.6" y="262.8" width="167.9" height="132.2" fill="none" stroke="#222" stroke-width="1"/>
<line x1="489.1" y1="395.0" x2="492.6" y2="395.0" stroke="#222" stroke-width="0.9"/>
<text x="488.6" y="398.0" font-size="8.4" fill="#000" text-anchor="end" >0</text>
<line x1="490.6" y1="383.4" x2="492.6" y2="383.4" stroke="#222" stroke-width="0.9"/>
<line x1="489.1" y1="371.9" x2="492.6" y2="371.9" stroke="#222" stroke-width="0.9"/>
<text x="488.6" y="374.9" font-size="8.4" fill="#000" text-anchor="end" >20</text>
<line x1="490.6" y1="360.4" x2="492.6" y2="360.4" stroke="#222" stroke-width="0.9"/>
<line x1="489.1" y1="348.8" x2="492.6" y2="348.8" stroke="#222" stroke-width="0.9"/>
<text x="488.6" y="351.8" font-size="8.4" fill="#000" text-anchor="end" >40</text>
<line x1="490.6" y1="337.2" x2="492.6" y2="337.2" stroke="#222" stroke-width="0.9"/>
<line x1="489.1" y1="325.7" x2="492.6" y2="325.7" stroke="#222" stroke-width="0.9"/>
<text x="488.6" y="328.7" font-size="8.4" fill="#000" text-anchor="end" >60</text>
<line x1="490.6" y1="314.1" x2="492.6" y2="314.1" stroke="#222" stroke-width="0.9"/>
<line x1="489.1" y1="302.6" x2="492.6" y2="302.6" stroke="#222" stroke-width="0.9"/>
<text x="488.6" y="305.6" font-size="8.4" fill="#000" text-anchor="end" >80</text>
<line x1="490.6" y1="291.1" x2="492.6" y2="291.1" stroke="#222" stroke-width="0.9"/>
<line x1="489.1" y1="279.5" x2="492.6" y2="279.5" stroke="#222" stroke-width="0.9"/>
<text x="488.6" y="282.5" font-size="8.4" fill="#000" text-anchor="end" >100</text>
<line x1="490.6" y1="267.9" x2="492.6" y2="267.9" stroke="#222" stroke-width="0.9"/>
<text x="511.4" y="404.0" font-size="8.6" fill="#000" text-anchor="middle" >0 min</text>
<text x="551.5" y="404.0" font-size="8.6" fill="#000" text-anchor="middle" >5 min</text>
<text x="600.0" y="404.0" font-size="8.6" fill="#000" text-anchor="middle" >10 min</text>
<text x="646.8" y="404.0" font-size="8.6" fill="#000" text-anchor="middle" >30 min</text>
<text transform="translate(474.9,334.8) rotate(-90)" font-size="8.7" text-anchor="middle">Survival ratio (%)</text>
<text x="564.0" y="300.4" font-size="8.6" fill="#000" text-anchor="middle" >94.9%</text>
<text x="605.4" y="293.6" font-size="8.6" fill="#000" text-anchor="middle" >82.7%</text>
<text x="646.4" y="296.0" font-size="8.6" fill="#000" text-anchor="middle" >80.3%</text>
<text x="546.3" y="379.3" font-size="8.6" fill="#000" text-anchor="middle" >7.7%</text>
<text x="587.6" y="386.0" font-size="8.6" fill="#000" text-anchor="middle" >4.7%</text>
<text x="629.6" y="387.7" font-size="8.6" fill="#000" text-anchor="middle" >3.3%</text>
<rect x="559.8" y="265" width="14.4" height="5.8" fill="url(#gdl_o)"/>
<rect x="559.8" y="274.2" width="14.4" height="6" fill="url(#gdl_b)"/>
<text x="577.6" y="270.2" font-size="6.95" fill="#000" text-anchor="start" >In the CMCN/Air system</text>
<text x="577.6" y="279.4" font-size="6.95" fill="#000" text-anchor="start" >Only with aeration</text>
<path d="M508.5 315.4 C504.5 329 507 343 527 354 L522.3 359.3 L547 359.6 L529.8 339.8 L529.4 345 C518 339 511.5 330 508.3 315.4 Z" fill="url(#gd_arr)" stroke="#5f7d9e" stroke-width="0.8" stroke-linejoin="round"/>
<rect x="456.4" y="415.5" width="226" height="12" fill="url(#gh1)"/>
<rect x="456.4" y="494.9" width="226" height="12.8" fill="url(#gh2)"/>
<text x="570.5" y="423.6" font-size="7.6" fill="#000" text-anchor="middle" >In CMCN/Air system</text>
<text x="569.8" y="504.9" font-size="7.6" fill="#000" text-anchor="middle" >Only with aeration</text>
<rect x="456.8" y="427.5" width="225.6" height="61.9" fill="none" stroke="#444" stroke-width="0.6" stroke-dasharray="1 1"/>
<line x1="512.8" y1="427.5" x2="512.8" y2="489.4" stroke="#444" stroke-width="0.6" stroke-dasharray="1 1"/>
<line x1="569.6" y1="427.5" x2="569.6" y2="489.4" stroke="#444" stroke-width="0.6" stroke-dasharray="1 1"/>
<line x1="626.3" y1="427.5" x2="626.3" y2="489.4" stroke="#444" stroke-width="0.6" stroke-dasharray="1 1"/>
<rect x="456.8" y="507.7" width="225.6" height="62.5" fill="none" stroke="#444" stroke-width="0.6" stroke-dasharray="1 1"/>
<line x1="512.8" y1="507.7" x2="512.8" y2="570.2" stroke="#444" stroke-width="0.6" stroke-dasharray="1 1"/>
<line x1="569.6" y1="507.7" x2="569.6" y2="570.2" stroke="#444" stroke-width="0.6" stroke-dasharray="1 1"/>
<line x1="626.3" y1="507.7" x2="626.3" y2="570.2" stroke="#444" stroke-width="0.6" stroke-dasharray="1 1"/>
<circle cx="484.9" cy="455.5" r="25.8" fill="url(#rim1)" stroke="#6e6e66" stroke-width="0.6"/>
<circle cx="485.2" cy="455.8" r="23.7" fill="url(#in1)"/>
<path d="M481.0 463.2h.01M481.4 450.6h.01M471.8 452.5h.01M499.7 461.2h.01M499.2 458.9h.01M491.0 458.4h.01M466.9 464.8h.01M492.4 462.9h.01M469.8 439.9h.01M472.5 449.0h.01M489.7 454.8h.01M492.5 446.2h.01M489.6 461.5h.01M477.7 474.3h.01M492.1 470.9h.01M476.2 445.1h.01M479.6 453.8h.01M494.3 459.2h.01M478.7 442.3h.01M478.2 471.2h.01M473.2 459.0h.01M490.0 437.6h.01M485.5 472.4h.01M464.3 452.2h.01M483.4 443.6h.01M492.5 454.5h.01M468.0 465.0h.01M493.9 468.2h.01M502.6 459.9h.01M486.4 438.7h.01M493.8 446.7h.01M479.1 439.3h.01M471.7 448.3h.01M496.5 437.2h.01M467.0 458.4h.01M502.2 462.4h.01M471.5 437.8h.01M490.1 444.8h.01M471.2 467.5h.01M499.9 457.6h.01M488.7 462.1h.01M503.1 462.6h.01M492.5 463.6h.01M468.8 468.7h.01M498.0 462.7h.01M464.9 449.1h.01M493.6 436.7h.01M482.3 469.6h.01M471.7 471.8h.01M493.3 453.2h.01M489.7 465.1h.01M486.5 470.9h.01M475.2 449.4h.01M499.3 455.9h.01M473.5 467.8h.01M502.6 450.1h.01M467.5 453.8h.01M482.6 450.9h.01M500.8 443.9h.01M498.9 441.4h.01M473.9 464.3h.01M499.0 466.3h.01M490.3 457.7h.01M487.2 464.2h.01M482.2 459.8h.01M493.6 455.5h.01M495.7 463.5h.01M505.5 458.8h.01M478.4 449.9h.01M484.7 468.6h.01M479.8 461.4h.01M497.8 437.4h.01M469.7 458.8h.01M491.0 459.2h.01M478.6 465.1h.01M489.2 447.6h.01M506.4 458.6h.01M476.5 454.0h.01M481.4 454.5h.01M463.2 451.6h.01M497.1 441.4h.01M484.0 469.0h.01M494.7 472.5h.01M465.6 451.5h.01M479.8 464.7h.01M493.2 435.0h.01M496.9 439.5h.01M492.9 438.1h.01M487.2 471.4h.01M482.6 458.5h.01M496.5 457.6h.01M483.8 474.0h.01M499.3 451.5h.01M505.4 447.0h.01M497.8 451.7h.01M486.9 465.9h.01M488.2 465.0h.01M469.9 440.6h.01M493.2 442.5h.01M473.5 439.2h.01M500.5 464.7h.01M501.5 444.9h.01M484.9 440.1h.01M493.5 473.3h.01M475.0 472.8h.01M498.7 453.0h.01M467.2 468.1h.01M483.5 446.4h.01M491.0 461.7h.01M501.5 444.2h.01M497.2 471.6h.01M502.8 453.3h.01M475.2 468.8h.01M486.7 457.5h.01M502.6 452.2h.01M463.7 451.9h.01M465.9 463.9h.01M489.6 446.4h.01M484.8 467.6h.01M485.9 472.5h.01M484.1 469.9h.01M499.4 471.1h.01M475.7 467.5h.01M466.5 444.9h.01M466.1 465.7h.01M468.6 455.3h.01M481.9 455.1h.01M476.0 459.0h.01M504.8 456.0h.01M492.1 469.1h.01M482.3 439.1h.01M477.5 469.8h.01M466.3 448.8h.01M498.0 465.8h.01M485.0 467.2h.01M487.1 439.8h.01M466.9 448.1h.01M497.6 447.7h.01M472.8 445.2h.01M466.4 454.1h.01M469.3 460.3h.01M463.5 458.5h.01M478.4 435.7h.01M495.5 451.5h.01M464.7 447.6h.01M489.3 448.5h.01M495.6 465.8h.01M494.7 460.3h.01M501.3 463.6h.01M489.4 434.9h.01M495.6 471.1h.01M480.4 448.4h.01M501.2 440.8h.01M489.0 476.9h.01M472.4 464.8h.01M505.2 454.2h.01M492.6 467.9h.01M472.0 454.2h.01M489.1 467.4h.01M484.4 452.4h.01M470.9 450.6h.01M497.7 457.0h.01M473.5 444.3h.01M505.3 464.2h.01M490.1 434.2h.01M494.0 462.5h.01M504.0 460.3h.01M483.9 463.5h.01M466.1 465.5h.01M489.7 445.2h.01M497.5 472.7h.01M468.0 447.5h.01M489.4 458.4h.01M479.4 442.0h.01M504.3 465.0h.01M471.6 440.6h.01M502.7 465.9h.01M503.8 463.9h.01M472.5 459.2h.01M464.6 448.5h.01M484.0 463.5h.01M474.2 453.7h.01M491.8 461.2h.01M494.4 458.6h.01M480.2 466.9h.01M485.6 443.5h.01M475.5 455.5h.01M483.2 458.0h.01M484.9 458.3h.01M483.1 439.0h.01M490.6 469.8h.01M491.6 452.6h.01M491.1 442.2h.01M464.5 456.1h.01M472.5 465.4h.01M476.5 435.1h.01M473.7 472.5h.01M480.1 438.4h.01M474.0 462.9h.01M492.5 458.2h.01M502.2 463.8h.01M484.6 464.5h.01M502.5 465.9h.01M497.4 442.2h.01M482.7 466.3h.01M480.9 470.1h.01M493.1 467.9h.01M483.1 477.3h.01M501.2 452.7h.01M485.7 477.4h.01M480.0 467.9h.01M498.7 455.6h.01M469.3 458.0h.01M489.7 470.6h.01M496.4 455.9h.01M496.8 463.0h.01M488.1 456.4h.01M481.3 465.6h.01M471.0 447.2h.01M485.0 437.4h.01M480.5 435.1h.01M475.1 463.6h.01M493.5 454.7h.01M482.0 437.9h.01M504.5 461.0h.01M498.6 444.4h.01M482.9 435.5h.01M495.2 467.9h.01M464.5 454.9h.01M491.7 436.4h.01M466.7 444.9h.01M477.3 438.6h.01M485.4 459.4h.01M493.9 465.4h.01M501.0 468.0h.01M468.4 449.1h.01M472.0 442.4h.01M483.6 455.6h.01M490.6 437.1h.01M468.6 455.2h.01M481.8 450.7h.01M484.0 444.3h.01M495.2 460.7h.01M483.6 445.5h.01M483.5 433.5h.01M471.1 456.0h.01M466.6 457.9h.01M486.8 438.1h.01M481.0 450.6h.01M491.7 464.5h.01M484.4 443.2h.01M482.6 454.5h.01M495.6 459.8h.01M476.2 439.1h.01M479.5 444.8h.01M469.8 453.9h.01M477.4 457.1h.01M492.7 449.3h.01M506.3 452.5h.01M499.9 457.2h.01M494.2 435.6h.01M473.9 459.1h.01M490.3 476.5h.01M489.1 472.0h.01M495.1 468.1h.01M492.7 453.1h.01M491.7 441.1h.01M499.1 443.3h.01M487.4 476.5h.01M481.4 455.8h.01M500.5 455.9h.01M473.2 459.2h.01M493.2 465.6h.01M476.7 474.2h.01M504.2 455.7h.01M489.0 449.0h.01M501.8 447.1h.01M494.7 448.5h.01M475.2 465.6h.01M502.0 455.4h.01M475.6 466.7h.01M484.1 460.3h.01M501.3 467.7h.01M480.1 476.5h.01M484.9 467.0h.01M475.2 454.8h.01M469.6 471.1h.01M499.9 442.1h.01M470.4 439.9h.01M500.3 449.5h.01M484.0 450.6h.01M483.2 440.6h.01M485.2 437.6h.01M483.8 460.3h.01M492.0 452.0h.01M472.0 457.8h.01M479.2 473.8h.01M496.1 453.8h.01M478.1 445.3h.01M471.8 450.6h.01M489.4 463.3h.01M490.5 476.0h.01M474.4 455.7h.01M503.4 443.1h.01M477.0 458.1h.01M487.3 461.8h.01M481.2 461.1h.01M485.7 466.8h.01M465.9 446.6h.01M484.9 441.2h.01M471.1 463.8h.01M475.6 464.6h.01M495.8 460.0h.01M492.6 453.9h.01M467.2 455.1h.01M491.6 447.6h.01M483.4 466.5h.01M472.9 464.3h.01M504.6 449.6h.01M487.2 453.1h.01M503.3 459.3h.01M497.1 446.2h.01M484.6 455.3h.01M468.2 469.0h.01M494.3 437.2h.01M495.8 453.6h.01M491.7 461.0h.01M466.7 452.9h.01M502.6 448.7h.01M473.2 439.9h.01M468.9 459.9h.01M504.0 460.4h.01M487.2 476.8h.01M477.4 445.8h.01M492.7 463.6h.01M472.7 441.4h.01M489.4 459.3h.01M468.1 452.9h.01M476.9 462.3h.01M483.1 454.1h.01M480.1 469.8h.01M502.2 450.9h.01M496.4 445.2h.01M486.0 466.5h.01M503.0 450.9h.01M483.7 458.6h.01M466.6 455.7h.01M475.0 460.9h.01M474.3 436.9h.01M485.5 459.6h.01M477.3 467.8h.01M480.8 446.5h.01M490.5 437.2h.01M474.8 455.2h.01M497.1 453.2h.01M489.5 445.8h.01M488.4 474.6h.01M478.8 476.4h.01M475.3 455.8h.01M487.3 469.7h.01M473.9 436.8h.01M493.4 466.6h.01M490.0 476.9h.01M488.1 459.5h.01M497.9 460.7h.01M501.7 443.0h.01M482.5 433.4h.01M496.5 450.2h.01M493.4 475.3h.01M484.8 451.5h.01M477.9 443.7h.01M475.9 464.6h.01M485.5 456.5h.01M482.4 468.5h.01M492.4 453.3h.01M494.8 453.2h.01M472.3 471.3h.01M491.3 442.3h.01M499.5 460.2h.01M470.0 470.8h.01" stroke="#d2d6d6" stroke-width="1.05" stroke-linecap="round" opacity="0.85"/>
<text x="458.8" y="484.6" font-size="6.5" fill="#000" text-anchor="start" >0 min</text>
<circle cx="541.4" cy="455.5" r="25.8" fill="url(#rim1)" stroke="#6e6e66" stroke-width="0.6"/>
<circle cx="541.7" cy="455.8" r="23.7" fill="url(#in1)"/>
<path d="M546.1 468.1h.01M544.5 453.2h.01M524.4 466.2h.01M541.9 451.0h.01M546.8 456.7h.01M551.3 450.1h.01M541.0 434.4h.01M535.2 465.4h.01M558.3 450.9h.01M540.0 474.3h.01M536.7 466.2h.01M560.8 456.0h.01M556.8 446.6h.01M544.7 454.3h.01M543.0 470.8h.01M562.4 449.7h.01M532.9 462.8h.01M527.2 462.2h.01M550.0 451.3h.01M547.6 437.4h.01M550.1 437.9h.01M531.4 447.5h.01M535.7 467.7h.01M542.7 449.4h.01M547.7 473.8h.01M541.5 461.2h.01M557.6 459.0h.01M531.3 475.1h.01M557.9 440.7h.01M540.8 461.9h.01M554.3 464.5h.01M537.7 441.1h.01M542.8 469.8h.01M528.1 442.9h.01M541.1 435.0h.01M537.4 448.8h.01M547.9 445.3h.01M529.0 449.9h.01M540.7 445.6h.01M541.6 466.5h.01M553.4 472.7h.01M530.2 449.5h.01M523.8 469.0h.01M530.7 455.0h.01M547.9 438.7h.01M548.5 455.1h.01M521.5 458.7h.01M552.9 437.5h.01M553.1 458.5h.01M548.5 462.1h.01M558.2 452.6h.01M553.7 449.7h.01M551.4 444.4h.01M540.2 475.1h.01M548.2 453.1h.01M526.9 445.5h.01M544.1 468.8h.01M547.8 463.3h.01M540.9 472.8h.01M535.6 447.3h.01M554.1 456.4h.01M537.2 446.9h.01M537.6 464.8h.01M546.0 439.7h.01M547.9 458.2h.01M528.3 465.6h.01M537.1 450.3h.01M551.0 471.4h.01M531.4 461.9h.01M533.7 475.9h.01M535.0 471.0h.01M532.4 466.7h.01M556.0 438.7h.01M534.9 463.0h.01M540.0 445.5h.01M562.6 456.3h.01M523.5 464.8h.01M524.0 467.1h.01M532.7 457.7h.01M557.9 457.0h.01" stroke="#d2d6d6" stroke-width="1.05" stroke-linecap="round" opacity="0.85"/>
<text x="515.3" y="484.6" font-size="6.5" fill="#000" text-anchor="start" >5 min</text>
<circle cx="598.0" cy="455.5" r="25.8" fill="url(#rim1)" stroke="#6e6e66" stroke-width="0.6"/>
<circle cx="598.3" cy="455.8" r="23.7" fill="url(#in1)"/>
<path d="M584.5 439.1h.01M612.9 464.8h.01M587.1 467.0h.01M605.2 464.9h.01M576.7 452.7h.01M610.1 465.4h.01M605.4 434.9h.01M600.6 463.0h.01M618.6 447.8h.01M592.9 456.1h.01M610.4 449.3h.01M612.5 445.6h.01M602.0 447.5h.01M600.3 445.3h.01M581.1 467.1h.01M602.6 447.1h.01M600.8 469.3h.01M584.3 454.0h.01M605.9 463.2h.01M594.7 434.6h.01M614.2 459.8h.01M598.2 451.2h.01M602.0 449.0h.01M584.6 445.8h.01M589.4 446.7h.01M583.1 463.7h.01M581.8 463.6h.01M584.1 460.3h.01M615.4 458.1h.01M587.2 456.2h.01M599.7 435.9h.01M588.9 457.9h.01M590.8 456.7h.01M608.1 466.1h.01M610.4 463.6h.01M593.5 455.2h.01M593.8 450.7h.01M596.0 435.9h.01M592.8 455.1h.01M584.3 455.2h.01" stroke="#d2d6d6" stroke-width="1.05" stroke-linecap="round" opacity="0.85"/>
<text x="571.9" y="484.6" font-size="6.5" fill="#000" text-anchor="start" >10 min</text>
<circle cx="654.2" cy="455.5" r="25.8" fill="url(#rim1)" stroke="#6e6e66" stroke-width="0.6"/>
<circle cx="654.5" cy="455.8" r="23.7" fill="url(#in1)"/>
<path d="M662.0 453.0h.01M668.1 438.1h.01M651.9 435.5h.01M661.9 476.2h.01M632.4 456.6h.01M662.0 450.9h.01M659.3 434.6h.01M666.3 460.8h.01M654.5 446.6h.01M663.5 448.4h.01M657.6 447.8h.01M632.8 455.2h.01M657.2 466.5h.01M641.6 455.0h.01M663.5 457.7h.01M665.6 473.8h.01M645.2 436.4h.01M663.9 472.7h.01M666.4 466.2h.01M645.4 445.4h.01M665.8 443.6h.01M635.8 445.4h.01M671.8 469.1h.01M644.6 445.3h.01M657.6 444.5h.01M671.1 454.5h.01M641.7 470.5h.01M645.4 458.8h.01M654.0 450.6h.01M659.0 445.3h.01M640.0 438.5h.01M638.6 446.2h.01M653.8 456.4h.01M662.6 457.3h.01M643.3 445.7h.01M633.2 453.8h.01M661.4 463.3h.01M652.3 452.8h.01M667.5 455.7h.01M664.7 463.8h.01" stroke="#d2d6d6" stroke-width="1.05" stroke-linecap="round" opacity="0.85"/>
<text x="628.1" y="484.6" font-size="6.5" fill="#000" text-anchor="start" >30 min</text>
<circle cx="484.9" cy="536.2" r="25.8" fill="url(#rim2)" stroke="#6e6e66" stroke-width="0.6"/>
<circle cx="485.2" cy="536.5" r="23.7" fill="url(#in2)"/>
<path d="M487.6 553.0h.01M476.4 530.8h.01M474.0 525.4h.01M499.2 552.4h.01M485.2 544.8h.01M499.6 546.3h.01M498.5 521.9h.01M475.5 542.8h.01M502.8 537.5h.01M472.7 531.2h.01M475.8 524.4h.01M502.5 528.9h.01M485.1 557.4h.01M500.5 540.6h.01M475.9 542.3h.01M503.3 543.3h.01M501.4 537.5h.01M492.7 533.1h.01M490.3 552.7h.01M467.1 535.4h.01M488.5 527.6h.01M480.4 547.6h.01M505.0 542.5h.01M488.8 517.7h.01M505.4 537.0h.01M484.4 521.0h.01M484.1 521.2h.01M486.0 543.4h.01M485.4 540.6h.01M475.0 552.8h.01M478.0 516.9h.01M482.2 525.0h.01M471.0 531.3h.01M488.8 520.5h.01M483.2 554.0h.01M495.0 533.9h.01M486.9 534.3h.01M484.2 547.0h.01M484.1 514.5h.01M484.6 523.5h.01M494.2 527.5h.01M486.3 557.4h.01M472.3 522.6h.01M473.7 517.2h.01M464.8 540.1h.01M478.2 516.7h.01M467.4 543.5h.01M473.7 530.9h.01M489.1 553.3h.01M503.7 546.2h.01M487.1 539.1h.01M501.7 549.6h.01M480.2 543.2h.01M489.4 537.0h.01M478.6 519.6h.01M478.6 518.1h.01M500.6 543.1h.01M471.7 551.5h.01M493.8 517.1h.01M503.9 544.6h.01M503.5 525.1h.01M492.8 542.5h.01M488.1 538.9h.01M496.5 519.8h.01M471.4 521.1h.01M476.8 527.4h.01M490.5 540.3h.01M485.4 526.1h.01M478.8 549.4h.01M496.1 537.7h.01M481.1 554.7h.01M476.4 545.5h.01M500.3 532.7h.01M495.3 522.1h.01M499.0 539.0h.01M466.8 543.8h.01M474.2 551.6h.01M474.8 533.8h.01M489.3 531.1h.01M488.8 527.9h.01M494.9 536.3h.01M486.6 514.2h.01M500.5 536.6h.01M465.0 537.3h.01M491.2 550.6h.01M473.2 552.9h.01M483.5 557.8h.01M482.7 546.3h.01M480.0 521.2h.01M498.6 547.5h.01M502.2 545.8h.01M478.5 517.5h.01M475.7 526.6h.01M473.5 544.3h.01M490.0 532.0h.01M487.6 533.9h.01M488.0 547.2h.01M497.7 527.0h.01M469.7 550.6h.01M486.5 551.3h.01M465.9 532.4h.01M485.2 518.3h.01M477.5 546.6h.01M496.4 553.2h.01M474.8 519.8h.01M492.1 549.1h.01M487.4 519.4h.01M495.5 547.0h.01M493.1 529.0h.01M489.3 547.6h.01M479.0 516.6h.01M489.9 543.5h.01M485.1 548.9h.01M476.0 535.0h.01M480.3 544.8h.01M503.7 533.2h.01M502.5 549.3h.01M496.0 544.4h.01M504.7 534.2h.01M483.4 521.6h.01M490.8 553.0h.01M492.8 542.5h.01M481.8 538.9h.01M468.9 548.0h.01M479.4 521.4h.01M474.7 525.0h.01M495.8 549.7h.01M469.0 547.0h.01M497.1 528.2h.01M467.6 527.5h.01M475.5 541.3h.01M481.3 515.6h.01M487.7 517.8h.01M495.9 521.5h.01M475.4 524.5h.01M478.1 552.5h.01M496.7 544.5h.01M488.7 517.8h.01M477.2 528.1h.01M471.6 543.1h.01M474.6 526.3h.01M475.2 517.0h.01M492.3 552.7h.01M487.3 522.5h.01M462.9 537.6h.01M500.9 540.1h.01M495.4 552.9h.01M499.9 530.3h.01M498.5 546.2h.01M466.6 531.4h.01M467.1 534.8h.01M492.6 522.0h.01M466.5 547.8h.01M489.5 554.1h.01M469.7 548.4h.01M500.8 551.6h.01M481.6 540.4h.01M482.8 550.1h.01M499.3 537.4h.01M468.5 545.1h.01M478.0 545.4h.01M488.0 555.2h.01M500.0 530.2h.01M488.8 555.8h.01M476.9 542.6h.01M498.4 550.5h.01M491.4 519.7h.01M468.5 539.4h.01M488.2 557.8h.01M474.1 550.4h.01M493.3 517.9h.01M473.0 538.6h.01M477.4 533.8h.01M491.6 524.7h.01M491.7 526.9h.01M476.9 544.1h.01M476.3 540.5h.01M503.8 536.5h.01M482.7 547.0h.01M480.0 550.8h.01M468.9 543.9h.01M477.7 524.9h.01M503.5 527.3h.01M503.9 543.3h.01M501.3 525.2h.01M497.8 551.9h.01M483.1 534.2h.01M506.6 537.8h.01M478.7 526.9h.01M491.7 541.2h.01M486.9 555.7h.01M479.9 543.4h.01M501.2 525.0h.01M495.3 554.5h.01M469.6 523.8h.01M474.6 517.8h.01M489.7 516.4h.01M490.9 553.8h.01M466.1 532.5h.01M465.5 544.1h.01M474.1 532.3h.01M485.7 544.5h.01M479.5 536.4h.01M476.6 537.9h.01M469.2 537.1h.01M464.8 531.1h.01M505.3 537.0h.01M468.5 539.5h.01M474.5 518.6h.01M474.7 546.4h.01M490.8 534.7h.01M473.3 522.7h.01M502.0 539.3h.01M476.1 516.6h.01M474.2 555.5h.01M469.4 535.2h.01M488.2 533.7h.01M481.4 518.9h.01M474.0 553.8h.01M474.7 547.6h.01M465.6 533.1h.01M488.5 550.5h.01M470.2 544.0h.01M490.5 525.5h.01M491.5 523.7h.01M473.3 535.9h.01M462.9 535.3h.01M473.7 519.8h.01M478.8 547.2h.01M479.7 552.5h.01M471.8 521.4h.01M503.3 540.9h.01M497.3 525.4h.01M496.5 540.0h.01M494.6 536.6h.01M500.2 528.0h.01M474.1 519.6h.01M499.6 526.8h.01M471.8 524.4h.01M479.2 519.9h.01M480.6 526.9h.01M477.4 523.1h.01M485.5 529.1h.01M486.7 540.1h.01M488.2 515.1h.01M477.3 525.0h.01M493.6 518.4h.01M474.4 531.9h.01M480.2 549.9h.01M478.8 549.5h.01M471.3 519.4h.01M500.7 541.9h.01M492.4 538.1h.01M491.2 520.5h.01M497.9 528.9h.01M498.7 537.4h.01M466.8 524.4h.01M500.2 534.3h.01M478.8 539.9h.01M478.6 528.1h.01M486.5 538.5h.01M503.3 536.8h.01M500.7 551.4h.01M502.6 547.1h.01M486.9 538.4h.01M482.8 525.4h.01M483.9 526.6h.01M503.6 542.3h.01M480.2 516.1h.01M484.1 529.8h.01M471.9 522.6h.01M464.0 541.5h.01M484.3 558.1h.01M484.4 533.9h.01M502.8 537.9h.01M487.5 530.5h.01M477.8 553.9h.01M495.3 554.1h.01M479.5 536.7h.01M473.5 548.7h.01M467.9 543.1h.01M497.1 551.9h.01M473.2 549.8h.01M475.0 525.7h.01M470.0 549.2h.01M503.5 529.5h.01M473.9 531.3h.01M505.3 544.4h.01M479.0 516.8h.01M476.3 551.3h.01M505.0 533.3h.01M474.9 528.8h.01M466.0 545.3h.01M471.7 549.1h.01M468.0 523.6h.01M489.1 525.1h.01M496.3 536.3h.01M469.8 544.2h.01M493.4 517.0h.01M504.5 541.5h.01M492.8 517.0h.01M474.4 531.1h.01M496.8 520.1h.01M476.4 516.7h.01M481.2 541.5h.01M466.1 529.6h.01M490.8 554.6h.01M494.7 531.7h.01M470.5 524.8h.01M475.0 538.4h.01M484.3 555.5h.01M488.8 521.6h.01M502.0 546.7h.01M486.4 525.5h.01M466.4 526.1h.01M497.0 525.6h.01M468.0 538.7h.01M488.5 545.3h.01M492.8 553.1h.01M474.0 548.9h.01M471.8 545.4h.01M487.7 540.0h.01M498.5 536.0h.01M498.8 547.2h.01M486.9 527.6h.01M474.2 528.7h.01M481.7 535.8h.01M506.6 540.8h.01M495.3 524.6h.01M474.5 531.5h.01M487.6 521.9h.01M503.3 529.8h.01M494.1 516.3h.01M484.8 540.5h.01M487.8 545.2h.01M489.3 538.7h.01M465.4 528.9h.01M463.9 541.8h.01M489.7 533.2h.01M473.4 528.1h.01M500.8 551.1h.01M484.1 552.9h.01M471.1 519.3h.01M478.1 524.0h.01M476.5 539.0h.01M506.6 531.5h.01M485.7 540.5h.01M484.4 549.4h.01M502.3 524.0h.01M487.4 532.1h.01M489.2 517.9h.01M471.5 518.6h.01M492.9 539.1h.01M485.6 514.6h.01M479.5 525.3h.01M468.6 525.6h.01M494.9 544.0h.01M484.6 544.0h.01M475.8 537.3h.01M485.5 544.6h.01M483.8 533.9h.01M482.9 526.6h.01M505.8 541.0h.01M488.9 557.4h.01M499.0 520.6h.01M494.4 547.7h.01M502.5 548.5h.01M494.6 521.4h.01M472.5 540.0h.01M491.7 522.4h.01M479.1 530.1h.01M485.8 541.4h.01M481.2 520.0h.01M497.7 552.6h.01M483.4 550.4h.01M491.4 545.8h.01M491.8 525.3h.01M492.6 549.8h.01M476.1 555.5h.01M501.5 550.7h.01M504.7 543.6h.01M479.9 527.3h.01M473.1 537.9h.01M484.4 546.2h.01M470.3 552.9h.01M506.3 535.9h.01M494.7 543.1h.01M489.1 533.0h.01M483.1 524.3h.01M487.7 535.8h.01M489.5 524.0h.01M485.5 537.0h.01M492.9 522.1h.01M490.7 549.7h.01M493.8 530.7h.01M477.4 532.6h.01M493.2 553.9h.01M482.5 526.6h.01M490.7 539.3h.01M472.7 526.3h.01M483.4 546.2h.01M470.6 524.0h.01M491.3 520.4h.01M486.6 541.7h.01M483.4 522.0h.01M484.0 531.0h.01M489.7 524.2h.01M496.2 518.8h.01M482.1 536.3h.01M497.9 528.0h.01M492.9 527.9h.01M492.9 554.9h.01M478.8 542.9h.01M473.0 548.7h.01M501.0 536.7h.01M469.8 541.6h.01M498.6 549.2h.01M493.3 517.2h.01M476.8 553.2h.01M470.7 549.3h.01" stroke="#dedcc0" stroke-width="1.05" stroke-linecap="round" opacity="0.85"/>
<text x="458.8" y="565.3" font-size="6.5" fill="#000" text-anchor="start" >0 min</text>
<circle cx="541.4" cy="536.2" r="25.8" fill="url(#rim2)" stroke="#6e6e66" stroke-width="0.6"/>
<circle cx="541.7" cy="536.5" r="23.7" fill="url(#in2)"/>
<path d="M560.7 544.0h.01M556.4 531.7h.01M525.2 534.8h.01M538.3 535.5h.01M551.7 534.1h.01M544.3 542.7h.01M541.3 556.4h.01M548.2 537.5h.01M538.3 526.9h.01M558.6 538.1h.01M527.1 528.7h.01M539.3 529.4h.01M554.3 522.4h.01M548.9 538.4h.01M525.6 536.8h.01M540.0 543.9h.01M534.6 540.8h.01M524.1 524.9h.01M551.6 549.7h.01M541.2 527.2h.01M551.3 517.0h.01M530.3 545.5h.01M550.0 522.5h.01M524.3 549.4h.01M543.6 523.4h.01M542.2 549.1h.01M521.1 544.9h.01M548.5 516.1h.01M549.6 517.4h.01M556.5 541.5h.01M562.2 530.6h.01M541.5 550.7h.01M532.4 526.2h.01M535.6 535.1h.01M526.9 542.7h.01M549.7 537.3h.01M560.7 532.5h.01M557.8 529.4h.01M549.0 516.7h.01M544.5 533.5h.01M534.2 527.3h.01M536.3 525.7h.01M520.7 530.6h.01M533.3 528.5h.01M526.8 534.3h.01M552.8 532.6h.01M535.3 553.1h.01M553.9 548.0h.01M556.8 531.8h.01M539.6 551.3h.01M533.0 534.4h.01M547.2 541.9h.01M537.6 549.9h.01M538.8 546.9h.01M555.4 544.8h.01M550.7 521.5h.01M525.1 528.5h.01M547.1 554.1h.01M525.4 540.2h.01M529.8 526.3h.01M537.3 546.4h.01M544.2 551.9h.01M528.7 547.6h.01M554.6 537.2h.01M548.4 527.9h.01M526.7 530.8h.01M536.6 557.8h.01M535.9 555.0h.01M544.5 541.0h.01M551.6 525.5h.01M554.2 541.5h.01M523.6 543.3h.01M549.6 542.9h.01M559.9 531.4h.01M548.7 546.9h.01M530.4 550.9h.01M526.1 522.5h.01M548.3 521.7h.01M540.0 517.0h.01M542.3 520.9h.01M545.5 517.9h.01M548.2 532.1h.01M542.4 535.1h.01M543.1 519.2h.01M519.5 536.5h.01M528.4 529.9h.01M545.8 515.8h.01M530.7 527.6h.01M527.0 540.7h.01M539.4 524.3h.01M528.5 546.7h.01M531.9 544.6h.01M546.1 516.2h.01M526.5 536.2h.01M546.3 547.5h.01M551.8 549.6h.01M535.6 533.0h.01M552.5 530.1h.01M552.7 519.2h.01M551.1 533.6h.01M522.4 545.7h.01M546.2 536.5h.01M527.0 530.0h.01M558.6 526.8h.01M519.8 530.9h.01M525.5 534.4h.01M535.9 523.4h.01M530.6 549.6h.01M528.5 553.7h.01M534.2 521.7h.01M552.5 544.1h.01M527.8 545.9h.01M522.7 526.8h.01M556.6 532.8h.01M525.0 542.7h.01M554.5 535.9h.01M521.6 532.4h.01M547.4 547.2h.01M561.5 533.5h.01M534.0 535.6h.01M556.0 524.8h.01M550.9 516.2h.01M552.4 526.8h.01M548.1 546.2h.01M525.6 535.0h.01M545.0 545.0h.01M529.6 523.6h.01M528.0 553.9h.01M538.4 532.7h.01M524.6 546.7h.01M534.9 553.6h.01M553.7 536.5h.01M550.7 521.9h.01M536.5 527.6h.01M524.8 536.4h.01M539.6 554.0h.01M519.6 531.8h.01M528.6 529.8h.01M547.8 542.3h.01M541.8 528.9h.01M548.8 541.6h.01M521.4 533.3h.01M526.2 523.1h.01M543.7 537.1h.01M543.0 523.6h.01M538.5 523.2h.01M547.0 546.3h.01M558.6 548.6h.01M529.9 529.7h.01M528.2 540.5h.01M561.2 543.3h.01M522.4 525.4h.01M525.1 542.7h.01M541.4 540.9h.01M560.1 527.5h.01M533.0 555.6h.01M546.3 524.9h.01M523.9 523.1h.01M519.7 536.8h.01M542.0 550.1h.01M539.3 525.9h.01M533.8 555.6h.01M521.6 538.1h.01M541.8 545.5h.01M535.3 543.7h.01M553.2 534.1h.01M534.4 533.3h.01M527.9 533.3h.01M536.7 539.5h.01M555.9 550.4h.01M534.8 545.1h.01M545.7 547.3h.01M541.7 540.4h.01M534.7 525.0h.01M551.8 551.8h.01M551.1 542.6h.01M545.5 529.3h.01M522.3 543.3h.01M544.4 527.8h.01M530.0 551.3h.01M525.8 551.5h.01M547.1 557.2h.01M530.8 535.9h.01M533.7 538.6h.01M538.3 525.2h.01M555.2 526.1h.01M533.9 544.4h.01M533.4 529.7h.01M546.8 530.6h.01M525.0 534.9h.01M538.9 555.6h.01M527.8 548.2h.01M530.1 531.1h.01M536.4 540.4h.01M550.5 554.6h.01M533.6 552.6h.01M554.4 546.8h.01M531.2 548.3h.01M539.7 541.7h.01M537.4 546.0h.01M554.7 549.6h.01M538.5 550.1h.01M557.9 525.6h.01M556.7 522.3h.01M549.3 544.9h.01M559.5 539.6h.01M534.6 524.9h.01M526.0 545.7h.01M537.9 525.6h.01M549.0 525.3h.01M534.8 529.3h.01M557.4 550.3h.01M539.5 517.5h.01M545.7 537.3h.01M546.6 544.6h.01M536.9 549.2h.01M553.5 539.2h.01M535.3 529.0h.01M550.4 522.0h.01M539.1 525.2h.01M524.5 543.5h.01M541.0 536.8h.01M551.3 519.2h.01M540.4 540.7h.01M552.0 522.4h.01M551.9 539.4h.01M556.6 549.0h.01M546.7 556.9h.01M541.4 529.7h.01M536.6 523.0h.01M541.1 515.9h.01M540.1 542.8h.01M555.1 531.4h.01M558.2 528.3h.01M539.9 515.9h.01M531.0 525.4h.01M559.0 542.4h.01M527.0 543.1h.01M548.6 532.7h.01M541.7 531.6h.01M535.5 517.1h.01M540.2 552.6h.01M558.9 532.8h.01M530.7 533.2h.01M553.8 541.1h.01M532.9 541.5h.01M538.3 543.9h.01M536.5 518.6h.01M542.2 547.1h.01M526.6 534.8h.01M553.6 531.0h.01M535.0 556.2h.01M551.9 549.2h.01M531.3 553.6h.01M522.8 530.4h.01M550.2 552.1h.01M529.1 527.4h.01M543.5 516.0h.01M550.4 544.1h.01M534.9 544.0h.01M552.4 540.6h.01M547.5 553.9h.01M534.3 538.6h.01M534.5 549.8h.01M535.4 543.1h.01M543.5 537.2h.01M560.7 535.2h.01M557.7 545.7h.01M558.0 534.1h.01M553.5 546.0h.01M532.5 540.1h.01M539.4 535.7h.01M557.1 527.5h.01M526.4 520.7h.01M535.0 527.0h.01M541.6 544.5h.01M560.7 539.6h.01M547.9 525.9h.01M548.4 552.6h.01M553.5 518.5h.01M551.1 553.4h.01M550.7 519.4h.01M537.0 544.7h.01M547.2 525.0h.01M530.2 548.4h.01M527.5 551.1h.01M541.7 540.7h.01M525.3 529.0h.01M549.3 519.2h.01M559.3 524.0h.01M525.6 536.8h.01M548.1 546.4h.01M535.9 533.1h.01M538.0 527.9h.01M520.8 543.9h.01M545.2 538.6h.01M532.4 539.8h.01M541.2 535.0h.01M552.5 518.8h.01M544.7 522.0h.01M537.6 553.9h.01M527.0 534.9h.01M533.6 548.7h.01M531.2 518.7h.01M548.8 531.1h.01M537.2 550.4h.01M529.3 531.1h.01M543.6 542.3h.01M534.6 549.7h.01M562.3 532.4h.01M556.0 519.7h.01M558.5 532.0h.01M543.4 531.1h.01M533.6 520.6h.01M536.5 552.3h.01M556.2 531.7h.01M534.1 526.5h.01M529.8 553.7h.01M550.9 537.9h.01M534.9 522.8h.01M557.0 545.4h.01M529.6 548.4h.01M527.4 544.3h.01M528.5 530.6h.01M548.5 542.4h.01M554.1 525.7h.01M557.2 549.6h.01M541.2 543.1h.01M530.4 534.1h.01M524.8 537.3h.01M543.9 552.9h.01M553.5 546.6h.01M536.0 532.9h.01M536.3 539.5h.01M522.2 543.9h.01M523.5 530.3h.01M541.7 528.7h.01M560.3 535.1h.01M557.7 548.4h.01M534.2 542.0h.01M557.6 532.0h.01M542.7 528.1h.01M542.3 530.9h.01M542.5 549.8h.01M558.5 537.8h.01M544.2 548.1h.01M537.6 522.2h.01M554.8 524.9h.01M553.0 524.2h.01M559.5 525.9h.01M550.9 553.0h.01M530.8 552.6h.01M532.8 517.8h.01M551.2 545.7h.01M539.7 514.6h.01M540.6 531.6h.01M535.8 531.9h.01M522.3 530.2h.01M557.7 550.2h.01M536.3 526.2h.01M546.6 550.2h.01M550.3 521.7h.01M543.8 538.3h.01M556.7 549.0h.01M548.0 551.4h.01M536.8 554.1h.01M535.2 542.0h.01M553.0 524.7h.01M534.0 517.6h.01M543.9 535.4h.01M536.6 543.4h.01M520.6 536.0h.01M542.7 532.2h.01M549.7 554.6h.01M535.4 523.6h.01M532.6 537.5h.01M549.3 524.6h.01M553.6 523.7h.01M552.8 542.1h.01M545.8 556.8h.01M537.5 533.7h.01M547.9 547.9h.01M524.8 539.6h.01M531.3 544.8h.01M558.4 536.8h.01M539.8 539.0h.01M520.0 541.8h.01M549.6 538.6h.01M535.9 526.0h.01M539.1 551.8h.01M540.1 553.0h.01M519.9 532.4h.01M545.5 536.0h.01M523.2 528.9h.01M555.0 522.1h.01M529.5 523.0h.01M533.7 545.2h.01M547.3 516.2h.01M558.5 529.3h.01M534.9 554.6h.01M540.4 520.3h.01M532.7 526.3h.01M527.9 531.7h.01M553.4 541.0h.01M531.6 556.1h.01M528.0 537.8h.01M541.8 547.0h.01M536.6 542.9h.01M562.2 537.1h.01M527.2 540.5h.01M530.3 531.1h.01M544.2 541.2h.01M537.5 547.9h.01M539.0 519.8h.01M553.4 531.2h.01M556.4 528.1h.01M549.7 540.7h.01M522.0 525.5h.01M529.2 551.6h.01M522.7 545.3h.01M555.5 542.6h.01M550.8 529.3h.01M541.2 539.6h.01M547.3 546.1h.01M538.5 526.2h.01M533.3 542.1h.01M524.9 523.7h.01M535.5 528.3h.01M539.2 514.4h.01M536.3 532.5h.01M549.0 516.8h.01M536.9 543.1h.01M547.6 551.3h.01M554.0 523.6h.01M550.5 531.4h.01M532.4 553.3h.01M533.0 524.8h.01M535.8 524.5h.01M554.8 541.3h.01M558.3 541.2h.01M533.5 549.7h.01M532.2 529.7h.01M538.9 536.8h.01M556.3 528.6h.01M546.7 535.8h.01M527.1 523.7h.01M538.1 542.2h.01M546.1 543.2h.01M542.1 529.6h.01M547.1 522.9h.01M524.8 532.1h.01M524.4 530.1h.01M531.1 528.6h.01M540.8 524.9h.01M536.7 517.3h.01M543.4 524.0h.01M544.5 514.4h.01M530.1 539.6h.01M520.0 533.0h.01M542.8 537.8h.01" stroke="#dedcc0" stroke-width="1.05" stroke-linecap="round" opacity="0.85"/>
<text x="515.3" y="565.3" font-size="6.5" fill="#000" text-anchor="start" >5 min</text>
<circle cx="598.0" cy="536.9" r="25.8" fill="url(#rim2)" stroke="#6e6e66" stroke-width="0.6"/>
<circle cx="598.3" cy="537.2" r="23.7" fill="url(#in2)"/>
<path d="M580.2 539.6h.01M600.0 523.6h.01M608.6 536.2h.01M598.3 530.2h.01M606.0 538.3h.01M612.7 542.7h.01M589.1 533.7h.01M610.5 531.9h.01M603.6 544.5h.01M596.4 515.6h.01M600.0 540.1h.01M599.9 526.1h.01M613.7 535.2h.01M589.4 527.0h.01M602.7 522.5h.01M588.5 555.9h.01M612.9 548.9h.01M614.4 544.1h.01M581.1 548.9h.01M613.6 543.1h.01M580.0 548.4h.01M614.6 530.9h.01M599.8 547.9h.01M596.9 551.5h.01M599.2 546.9h.01M599.0 519.1h.01M591.3 558.1h.01M601.5 553.4h.01M609.5 554.2h.01M605.9 528.5h.01M598.2 516.7h.01M595.4 549.5h.01M577.0 538.8h.01M607.7 552.6h.01M585.7 528.3h.01M579.6 526.9h.01M603.2 557.2h.01M585.4 552.0h.01M604.2 529.7h.01M612.6 520.1h.01M597.0 540.2h.01M614.8 551.1h.01M619.3 538.2h.01M609.2 552.4h.01M605.5 542.2h.01M595.3 530.8h.01M586.6 555.0h.01M593.6 516.4h.01M602.0 536.4h.01M599.9 556.7h.01M596.4 532.9h.01M587.3 536.6h.01M591.5 540.0h.01M620.0 539.7h.01M589.5 556.0h.01M609.3 547.6h.01M607.6 547.9h.01M606.0 553.6h.01M609.5 552.3h.01M590.5 536.9h.01M588.5 549.4h.01M609.5 530.5h.01M602.8 558.3h.01M612.2 524.1h.01M596.6 546.2h.01M597.5 542.7h.01M613.3 541.2h.01M584.1 546.0h.01M596.5 538.6h.01M591.2 520.2h.01M582.1 532.4h.01M589.9 516.3h.01M611.3 523.5h.01M587.9 544.3h.01M578.8 547.6h.01M587.5 545.9h.01M590.9 541.4h.01M599.6 536.9h.01M581.3 523.4h.01M597.5 554.3h.01M590.2 544.5h.01M600.4 544.1h.01M608.9 520.4h.01M602.2 534.2h.01M593.6 525.0h.01M588.0 523.8h.01M589.2 557.0h.01M617.3 537.0h.01M607.6 524.2h.01M579.4 524.7h.01M599.7 554.5h.01M597.4 523.2h.01M594.7 523.3h.01M580.8 534.0h.01M592.4 525.5h.01M586.7 525.0h.01M600.9 554.1h.01M596.0 558.1h.01M579.3 540.1h.01M582.8 534.8h.01M599.5 545.2h.01M612.6 529.8h.01M582.0 534.5h.01M602.2 526.9h.01M607.5 554.8h.01M580.7 541.3h.01M607.9 518.3h.01M601.1 533.5h.01M583.1 550.7h.01M601.2 529.8h.01M604.4 546.1h.01M608.6 544.9h.01M603.3 521.7h.01M591.7 538.8h.01M580.4 550.5h.01M592.9 522.8h.01M578.3 539.6h.01M598.5 528.3h.01M592.3 524.7h.01M587.2 535.5h.01M589.1 546.3h.01M595.8 538.9h.01M603.1 552.9h.01M606.8 540.2h.01M595.7 525.4h.01M593.1 546.7h.01M601.4 531.1h.01M584.4 521.3h.01M602.3 550.7h.01M602.6 520.0h.01M594.8 540.3h.01M585.4 541.7h.01M595.2 525.1h.01M583.0 546.7h.01M602.9 524.6h.01M585.2 548.1h.01M606.7 532.5h.01M616.5 533.5h.01M585.4 550.0h.01M595.2 542.1h.01M598.5 523.2h.01M582.5 534.4h.01M613.8 525.6h.01M614.9 539.6h.01M583.3 540.4h.01M605.7 524.8h.01M577.2 540.4h.01M583.5 542.7h.01M577.8 535.4h.01M588.8 520.1h.01M594.3 539.5h.01M590.9 521.9h.01M600.4 517.5h.01M605.7 544.0h.01M615.8 546.3h.01M603.3 540.9h.01M598.3 520.2h.01M615.3 543.1h.01M594.2 521.9h.01M615.5 543.2h.01M583.2 545.3h.01M618.2 536.7h.01M603.9 530.8h.01M589.9 550.8h.01M620.2 537.7h.01M596.2 548.2h.01M593.7 547.3h.01M608.5 524.0h.01M583.6 535.9h.01M609.7 540.8h.01M611.4 522.1h.01M605.0 528.0h.01M599.5 541.8h.01M584.7 533.8h.01M582.8 540.4h.01M586.3 530.1h.01M601.2 527.4h.01M612.5 528.8h.01M609.9 540.8h.01M584.0 534.0h.01M586.4 531.9h.01M595.1 556.6h.01M593.1 555.1h.01M603.6 520.7h.01M577.3 543.0h.01M578.3 544.0h.01M611.7 542.1h.01M594.8 533.1h.01M601.9 532.4h.01M590.2 531.5h.01M612.8 529.1h.01M602.9 522.0h.01M589.6 520.6h.01M595.1 546.7h.01M602.5 529.7h.01M606.8 531.9h.01M603.5 541.0h.01M602.6 515.7h.01M582.4 546.1h.01M597.0 558.1h.01M594.6 528.8h.01M615.4 543.4h.01M617.7 542.2h.01M595.1 547.3h.01M587.0 530.7h.01M589.9 533.6h.01M608.8 530.2h.01M602.7 529.6h.01M604.7 515.9h.01M594.9 539.5h.01M585.0 549.1h.01M600.7 553.1h.01M610.6 545.3h.01M596.0 522.4h.01M594.7 530.1h.01M601.7 530.0h.01M617.7 526.6h.01M613.0 530.9h.01M594.7 549.6h.01M598.0 521.2h.01M604.1 534.0h.01M577.4 538.9h.01M584.6 527.4h.01M605.1 541.3h.01M595.2 557.8h.01M604.0 528.1h.01M601.6 535.1h.01M580.2 524.1h.01M585.9 554.9h.01M595.2 532.7h.01M590.5 549.9h.01M598.3 556.1h.01M606.6 554.7h.01M596.2 542.5h.01M591.6 534.4h.01M579.2 530.6h.01M585.5 528.3h.01M613.6 540.3h.01M612.7 547.2h.01M609.5 549.4h.01M589.8 547.8h.01M593.3 529.2h.01M608.5 555.8h.01M588.0 554.7h.01M608.8 525.9h.01M602.1 542.4h.01M603.5 531.6h.01M581.7 537.3h.01M609.3 547.2h.01M606.4 550.9h.01M584.5 536.3h.01M602.6 550.3h.01M600.3 544.5h.01M599.3 557.7h.01M577.0 536.7h.01M619.6 539.0h.01M578.2 538.3h.01M581.3 529.0h.01M600.5 556.0h.01M604.5 546.3h.01M611.7 539.6h.01M586.0 535.5h.01M603.0 532.8h.01M588.5 531.8h.01M581.7 525.8h.01M596.6 531.5h.01M598.5 554.2h.01M602.5 536.4h.01M584.3 524.4h.01M603.2 524.9h.01M603.6 522.8h.01M600.0 535.8h.01M611.3 531.7h.01M592.5 540.5h.01M598.6 556.0h.01M594.2 529.1h.01M593.3 543.8h.01M601.3 546.8h.01M587.3 556.1h.01M617.8 536.6h.01M582.4 538.9h.01M601.9 516.0h.01M598.2 519.1h.01M603.5 553.6h.01M609.2 520.6h.01M613.8 547.3h.01M592.8 544.2h.01M615.9 533.0h.01M597.8 528.7h.01M608.2 517.9h.01M613.9 526.1h.01M607.9 519.5h.01M585.6 529.0h.01M607.0 519.3h.01M606.4 528.1h.01M613.8 532.9h.01M605.2 534.4h.01M617.4 533.0h.01M597.7 557.3h.01M599.1 546.8h.01M587.5 539.7h.01M576.8 537.9h.01M590.6 519.6h.01M582.6 549.3h.01M603.0 519.2h.01M616.9 529.6h.01M592.5 540.6h.01M586.3 520.2h.01M588.8 551.4h.01M608.2 519.9h.01M613.6 537.3h.01M605.4 537.7h.01M603.5 523.6h.01M586.1 527.7h.01M592.7 545.8h.01M585.6 553.2h.01M589.2 528.7h.01M607.9 543.0h.01M593.5 522.8h.01M587.4 519.9h.01M611.4 549.6h.01M617.5 542.1h.01M602.7 547.5h.01M611.0 533.4h.01M601.4 557.7h.01M581.8 523.4h.01M585.6 546.6h.01M613.3 532.5h.01M607.7 536.2h.01M602.4 529.0h.01M597.6 536.8h.01M607.8 556.2h.01M578.7 542.5h.01M597.9 550.1h.01M611.4 546.7h.01M608.4 524.7h.01M582.6 551.9h.01M612.3 525.6h.01M613.7 545.0h.01M577.5 544.4h.01M586.3 550.7h.01M588.8 526.8h.01M579.8 534.4h.01M611.1 528.2h.01M583.6 553.5h.01M617.1 544.0h.01M591.2 521.7h.01M579.7 543.1h.01M612.8 524.9h.01M598.0 532.7h.01M594.2 544.2h.01M618.1 530.8h.01M608.5 550.4h.01M593.7 534.7h.01M583.0 549.0h.01M590.6 527.7h.01M598.9 524.9h.01M584.1 532.9h.01M615.8 534.4h.01M604.2 519.6h.01M582.0 551.8h.01M593.4 519.0h.01M596.5 545.7h.01M580.0 527.7h.01M601.6 524.3h.01M608.2 549.2h.01M604.4 530.6h.01M597.3 527.7h.01M596.0 541.7h.01M593.9 550.1h.01M619.4 532.4h.01M602.8 548.3h.01M607.3 533.5h.01M591.6 550.2h.01M606.8 544.1h.01M587.1 545.5h.01M609.2 534.3h.01M604.1 557.3h.01M578.6 543.2h.01M585.2 522.0h.01M594.6 544.9h.01M598.7 521.6h.01M581.0 530.3h.01M598.2 525.2h.01M584.1 553.1h.01M586.2 534.7h.01M590.2 528.6h.01M598.6 532.4h.01M605.8 522.0h.01M584.9 554.1h.01M596.9 547.8h.01M613.0 543.9h.01M598.4 518.5h.01M580.9 547.3h.01M607.5 544.9h.01M584.5 519.6h.01M585.6 523.1h.01M600.2 523.1h.01M615.9 529.9h.01M590.4 548.6h.01M602.5 524.5h.01M606.2 556.0h.01M582.2 533.7h.01M587.7 518.4h.01M606.7 546.6h.01M611.1 542.7h.01M577.4 536.6h.01M589.6 522.2h.01M584.1 546.5h.01M594.9 557.2h.01M602.9 517.1h.01M608.6 551.8h.01M598.4 521.1h.01M615.0 524.3h.01M597.1 516.7h.01M585.6 520.1h.01M610.7 550.6h.01M593.0 520.2h.01M597.1 542.6h.01M581.9 524.7h.01M596.5 547.1h.01M599.1 543.6h.01M588.1 517.2h.01M602.3 524.2h.01M596.1 531.2h.01M604.7 526.1h.01M615.7 537.3h.01M605.5 545.9h.01M611.9 542.3h.01M579.1 530.1h.01M617.7 541.9h.01M606.1 543.7h.01M589.1 527.5h.01M589.8 551.6h.01M602.0 556.4h.01M603.2 556.7h.01M603.9 521.7h.01M617.3 540.6h.01M613.6 539.7h.01M593.0 539.5h.01M585.0 523.1h.01M585.9 529.7h.01M580.9 535.6h.01M601.1 557.4h.01M618.0 536.4h.01M610.4 533.8h.01M603.9 536.4h.01M589.9 538.0h.01M580.3 542.2h.01M594.1 522.4h.01M592.7 545.0h.01M588.3 543.7h.01M604.6 554.9h.01M583.3 535.4h.01M604.0 554.6h.01M601.8 547.8h.01M580.6 530.0h.01M617.0 533.6h.01M618.3 530.1h.01M594.8 518.3h.01M607.3 540.8h.01M618.7 538.6h.01M594.9 519.5h.01M596.8 550.1h.01M607.2 552.1h.01M610.3 536.2h.01M607.0 539.5h.01M585.0 553.6h.01M603.0 522.7h.01M603.8 541.3h.01" stroke="#dedcc0" stroke-width="1.05" stroke-linecap="round" opacity="0.85"/>
<text x="571.9" y="565.3" font-size="6.5" fill="#000" text-anchor="start" >10 min</text>
<circle cx="654.6" cy="534.4" r="25.6" fill="url(#rim2)" stroke="#6e6e66" stroke-width="0.6"/>
<circle cx="654.9" cy="534.7" r="23.5" fill="url(#in2)"/>
<path d="M665.7 550.4h.01M633.0 538.4h.01M671.3 524.0h.01M634.8 537.4h.01M659.6 539.7h.01M640.1 528.3h.01M657.4 545.1h.01M675.5 537.2h.01M649.3 513.6h.01M669.1 532.6h.01M653.1 520.8h.01M662.3 515.6h.01M656.3 536.3h.01M658.4 550.9h.01M653.1 535.9h.01M664.1 517.2h.01M650.1 535.4h.01M667.0 524.0h.01M665.9 539.8h.01M639.9 519.7h.01M637.0 536.1h.01M657.6 544.9h.01M665.9 526.8h.01M668.1 544.7h.01M661.5 541.4h.01M638.3 539.0h.01M642.4 520.4h.01M649.3 536.5h.01M653.8 529.3h.01M640.9 537.0h.01M645.9 517.9h.01M655.7 552.2h.01M649.2 520.2h.01M667.8 550.8h.01M650.1 531.2h.01M656.2 556.3h.01M656.4 548.1h.01M659.4 514.9h.01M641.9 520.2h.01M661.2 536.0h.01M674.2 531.4h.01M659.3 535.6h.01M655.9 555.7h.01M658.0 552.2h.01M670.6 526.9h.01M664.5 528.9h.01M656.3 536.9h.01M654.9 527.3h.01M673.0 531.3h.01M662.3 552.7h.01M662.8 547.9h.01M670.0 546.5h.01M670.9 520.9h.01M675.0 534.7h.01M635.8 527.5h.01M637.2 534.1h.01M638.2 523.3h.01M659.1 536.8h.01M643.2 531.0h.01M653.1 535.6h.01M654.5 531.0h.01M664.2 516.9h.01M647.1 536.4h.01M648.7 526.3h.01M648.0 537.6h.01M670.8 532.0h.01M650.5 539.8h.01M652.1 514.2h.01M658.7 528.7h.01M646.4 543.4h.01M655.3 525.9h.01M637.4 520.8h.01M654.8 532.6h.01M661.2 537.8h.01M648.6 518.4h.01M639.8 532.5h.01M640.2 543.9h.01M642.0 517.4h.01M652.5 514.8h.01M671.9 523.9h.01M653.8 530.6h.01M646.0 515.9h.01M635.8 543.1h.01M663.8 553.8h.01M637.3 541.0h.01M654.4 546.5h.01M647.3 544.7h.01M666.8 542.6h.01M672.3 532.3h.01M672.2 526.4h.01M666.0 515.6h.01M654.8 522.8h.01M654.6 548.6h.01M665.1 535.8h.01M670.6 520.5h.01M645.4 551.5h.01M657.9 513.8h.01M659.1 518.9h.01M670.5 546.7h.01M647.8 550.5h.01M643.7 546.4h.01M663.3 532.5h.01M637.1 531.0h.01M633.8 529.3h.01M636.9 546.0h.01M646.6 514.2h.01M663.2 539.8h.01M649.7 554.9h.01M665.8 535.4h.01M649.9 512.9h.01M661.1 547.5h.01M647.5 517.5h.01M654.1 515.2h.01M654.7 545.6h.01M672.7 537.6h.01M657.5 545.3h.01M671.9 530.5h.01M639.6 524.7h.01M639.6 523.8h.01M652.7 539.7h.01M657.0 535.5h.01M649.2 540.8h.01M666.4 544.5h.01M672.6 530.9h.01M651.8 553.6h.01M657.7 540.7h.01M650.0 547.8h.01M649.1 520.7h.01M653.7 527.7h.01M666.4 529.1h.01M656.5 531.0h.01M659.6 525.1h.01M666.7 518.8h.01M649.0 524.2h.01M664.2 535.0h.01M661.9 529.5h.01M645.5 520.1h.01M649.6 526.4h.01M658.9 539.8h.01M668.2 532.9h.01M645.0 520.8h.01M655.5 539.9h.01M674.9 536.3h.01M669.4 550.2h.01M642.3 548.6h.01M667.3 549.4h.01M654.5 547.8h.01M647.3 533.3h.01M654.8 554.1h.01M651.6 547.7h.01M655.6 524.0h.01M658.2 544.1h.01M644.6 543.3h.01M645.0 522.6h.01M658.0 530.8h.01M644.2 517.1h.01M655.0 538.2h.01M647.6 537.2h.01M636.5 539.0h.01M660.9 538.6h.01M645.5 535.6h.01M656.4 549.0h.01M658.8 538.3h.01M644.9 546.0h.01M669.8 528.0h.01M664.0 538.9h.01M654.0 517.8h.01M669.5 518.6h.01M659.2 528.7h.01M669.6 528.9h.01M655.2 543.5h.01M661.3 526.7h.01M664.5 540.1h.01M667.9 527.5h.01M653.9 528.4h.01M642.7 538.0h.01M659.6 551.7h.01M649.7 540.3h.01M669.9 532.9h.01M655.6 536.5h.01M645.5 521.4h.01M669.6 536.7h.01M653.6 518.2h.01M656.2 549.9h.01M640.5 523.5h.01M666.7 550.1h.01M672.5 528.0h.01M663.0 523.9h.01M662.3 529.0h.01M657.1 551.3h.01M659.8 530.7h.01M655.5 538.5h.01M646.9 537.5h.01M661.5 552.2h.01M636.0 523.7h.01M639.7 544.9h.01M676.1 536.1h.01M656.2 549.6h.01M633.1 532.8h.01M632.6 535.5h.01M647.2 527.3h.01M659.6 525.8h.01M669.5 534.4h.01M657.8 555.8h.01M648.5 547.1h.01M644.6 549.5h.01M668.0 536.3h.01M665.2 551.5h.01M671.8 534.4h.01M653.9 549.3h.01M637.3 527.3h.01M661.6 542.6h.01M670.3 549.3h.01M659.4 541.0h.01M637.9 532.1h.01M658.6 531.0h.01M655.5 543.4h.01M641.8 526.8h.01M637.1 545.7h.01M643.8 517.0h.01M665.6 531.3h.01M667.8 529.4h.01M674.6 541.1h.01M656.9 536.2h.01M651.7 545.9h.01M674.8 530.1h.01M640.5 542.1h.01M666.1 518.3h.01M645.6 521.4h.01M662.7 541.7h.01M645.4 520.2h.01M661.2 514.5h.01M664.0 532.1h.01M673.2 544.0h.01M646.1 530.4h.01M650.6 524.0h.01M655.7 547.7h.01M636.6 531.7h.01M671.6 542.9h.01M643.8 523.7h.01M645.3 517.0h.01M669.8 535.3h.01M646.5 517.7h.01M649.0 526.9h.01M673.5 529.3h.01M656.2 548.8h.01M664.3 531.8h.01M636.4 546.1h.01M663.2 528.1h.01M653.4 521.2h.01M644.6 517.8h.01M661.9 541.9h.01M657.1 545.5h.01M662.5 536.2h.01M642.7 542.4h.01M669.5 542.3h.01M670.3 528.5h.01M643.2 549.0h.01M646.1 538.0h.01M651.7 534.7h.01M650.6 526.5h.01M639.8 550.2h.01M656.7 514.3h.01M643.6 520.7h.01M648.5 513.5h.01M661.0 552.7h.01M651.1 545.0h.01M662.0 519.0h.01M666.7 517.6h.01M646.3 529.2h.01M670.7 535.9h.01M652.8 523.0h.01M656.0 535.0h.01M663.2 550.7h.01M665.2 534.7h.01M652.8 553.0h.01M657.7 534.2h.01M670.7 548.5h.01M663.0 532.8h.01M646.4 548.1h.01M648.5 547.3h.01M643.5 535.9h.01M660.6 536.6h.01M658.1 540.1h.01M641.5 521.4h.01M653.0 554.0h.01M652.9 521.6h.01M645.0 534.9h.01M669.5 527.3h.01M662.8 537.1h.01M649.8 521.6h.01M652.4 524.0h.01M660.4 515.5h.01M668.6 543.8h.01M661.3 551.7h.01M661.1 515.9h.01M655.4 541.1h.01M646.0 520.2h.01M660.9 541.8h.01M648.3 530.8h.01M647.4 526.3h.01M653.8 548.8h.01M636.2 530.5h.01M673.1 538.0h.01M656.8 546.1h.01M642.9 520.3h.01M638.8 520.5h.01M658.1 546.2h.01M648.7 524.8h.01M660.4 543.2h.01M657.3 514.5h.01M650.0 513.2h.01M658.0 522.6h.01M647.1 551.6h.01M670.8 540.3h.01M658.7 537.0h.01M646.0 533.7h.01M673.4 525.8h.01M645.1 536.7h.01M666.1 545.1h.01M641.4 532.6h.01M651.2 518.7h.01M655.7 527.3h.01M667.0 540.3h.01M643.6 535.5h.01M649.5 525.3h.01M648.3 548.3h.01M650.1 515.5h.01M644.4 545.1h.01M673.8 525.0h.01" stroke="#dedcc0" stroke-width="1.05" stroke-linecap="round" opacity="0.85"/>
<text x="628.1" y="565.3" font-size="6.5" fill="#000" text-anchor="start" >30 min</text>
</svg></body></html>
